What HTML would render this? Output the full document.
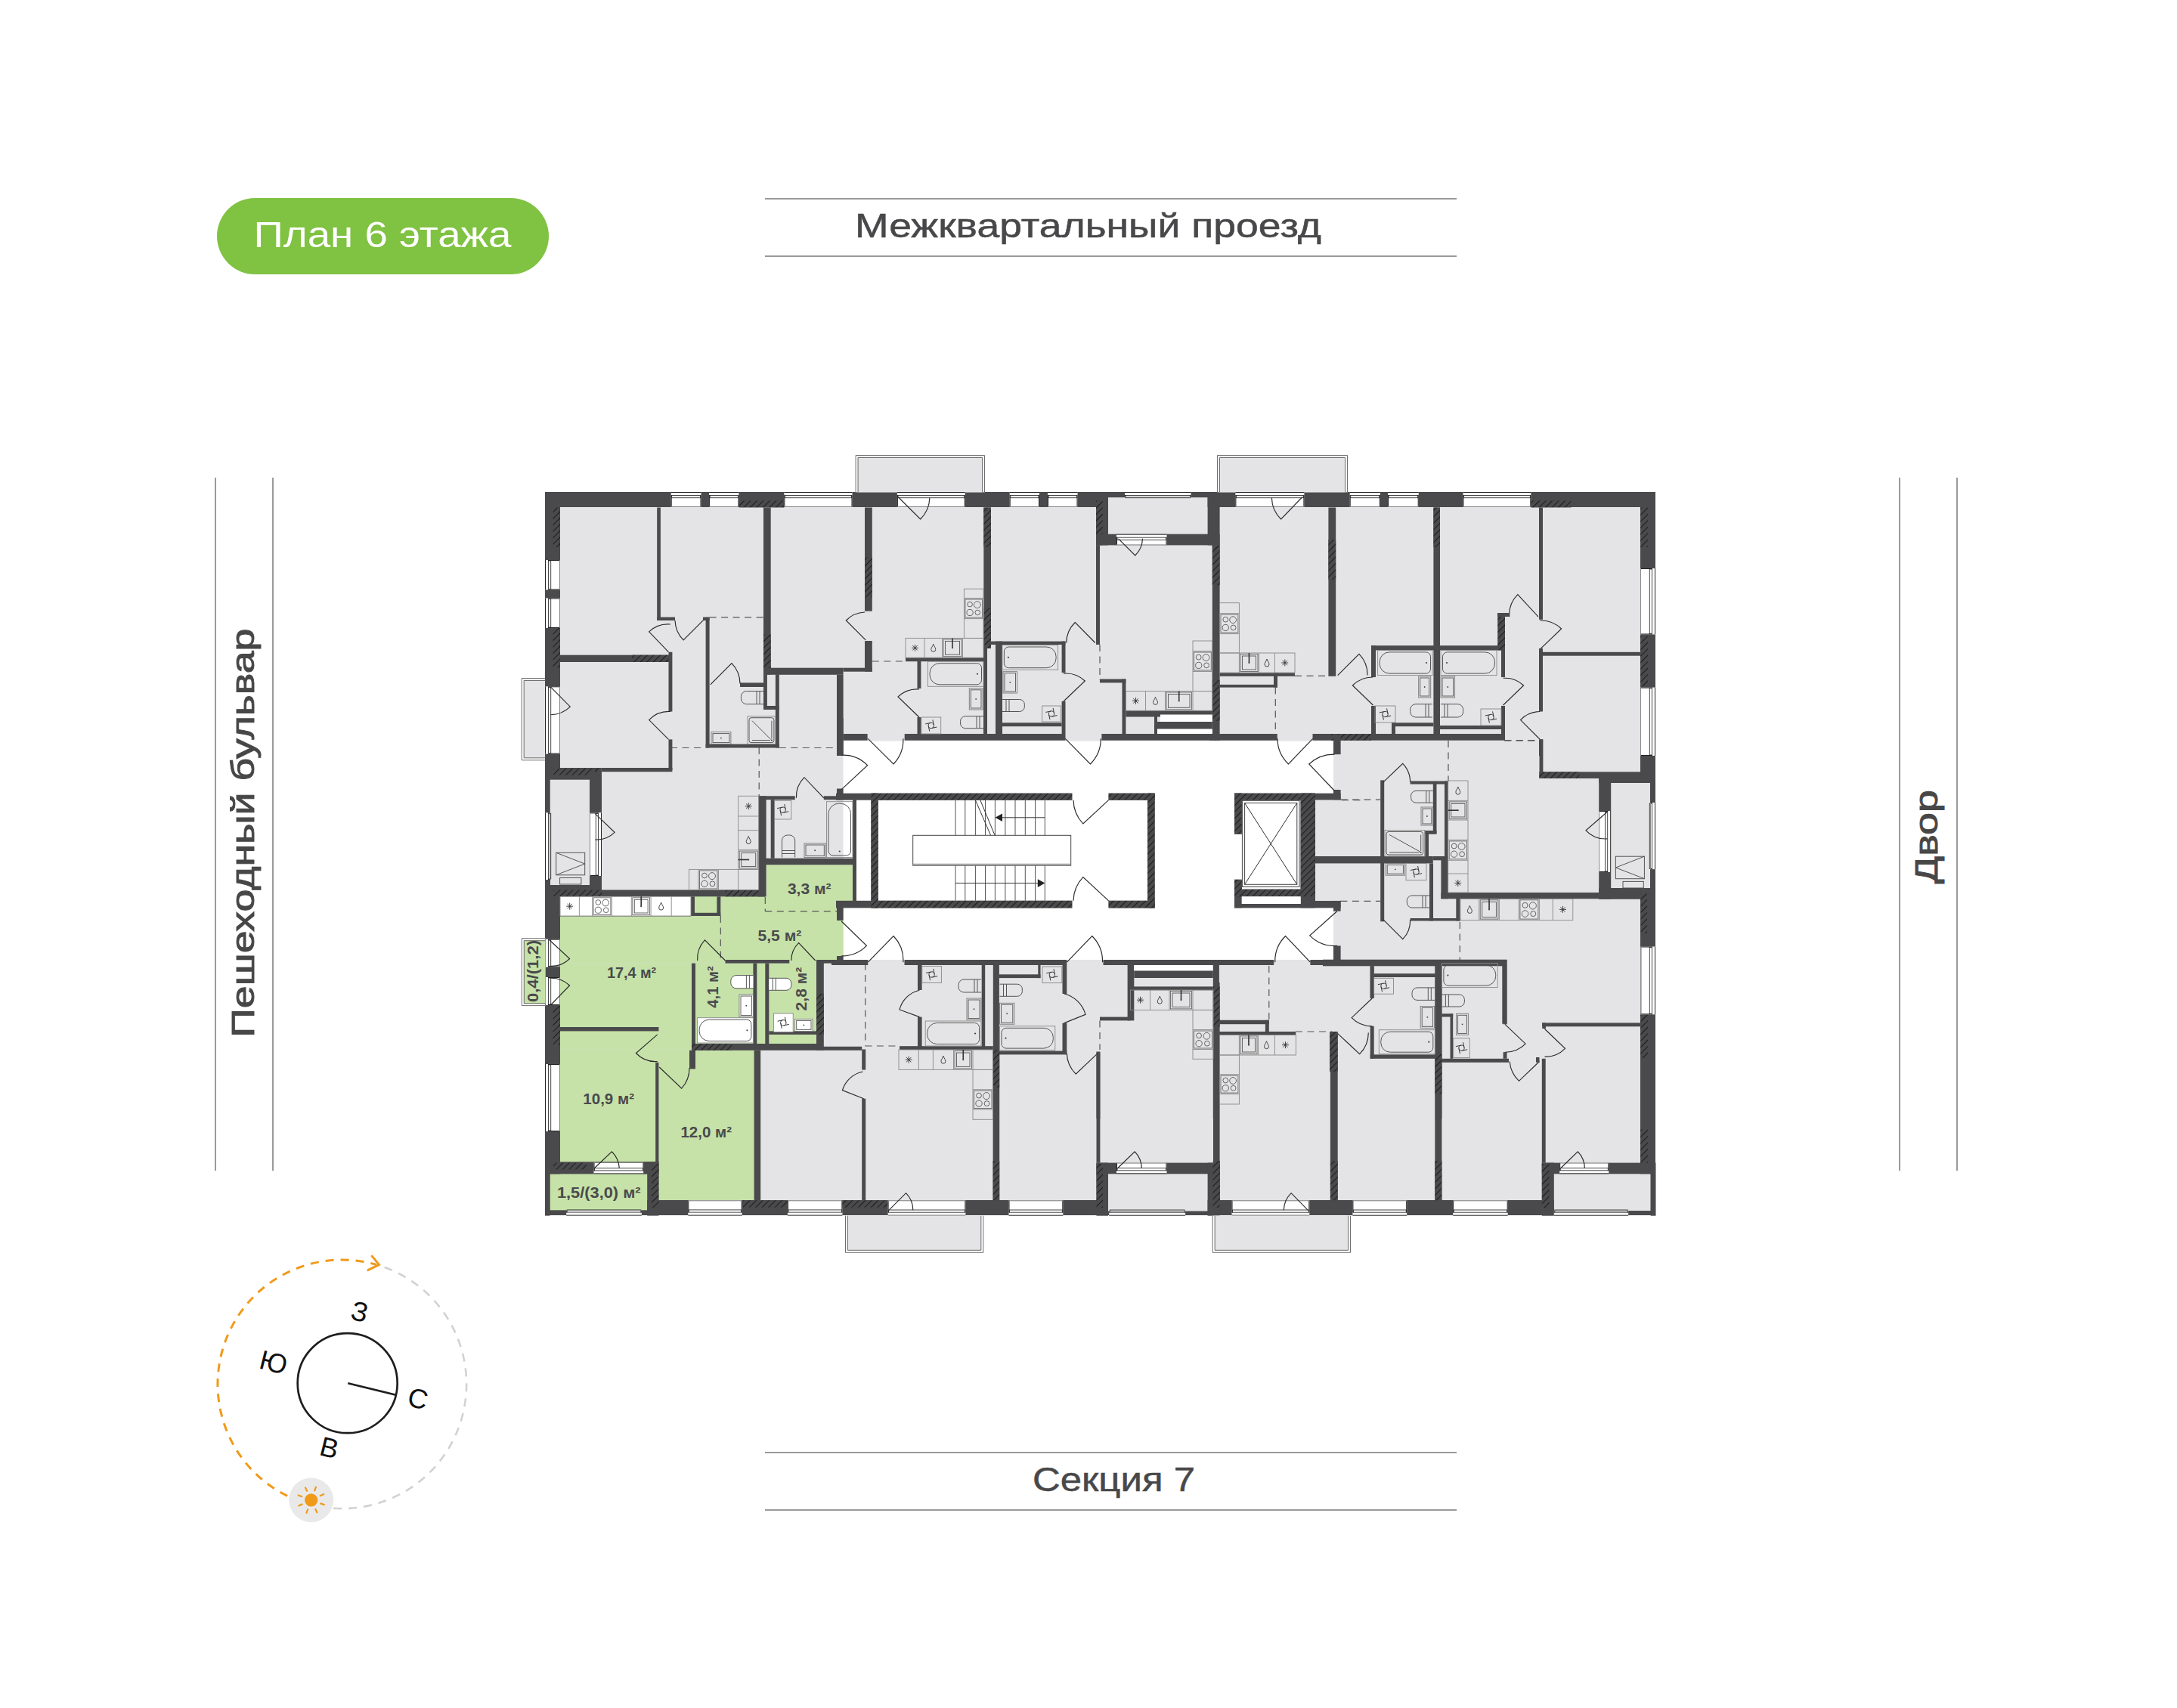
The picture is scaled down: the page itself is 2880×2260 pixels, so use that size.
<!DOCTYPE html>
<html><head><meta charset="utf-8">
<style>
html,body{margin:0;padding:0;background:#fff;}
body{width:2880px;height:2260px;position:relative;overflow:hidden;font-family:"Liberation Sans",sans-serif;}
.t{position:absolute;white-space:nowrap;color:#474747;}
</style></head><body>
<svg width="2880" height="2260" viewBox="0 0 2880 2260" style="position:absolute;left:0;top:0">
<defs>
<pattern id="hatch" patternUnits="userSpaceOnUse" width="6" height="6" patternTransform="rotate(45)">
<rect width="6" height="6" fill="#4a4a4c"/><rect x="0" y="0" width="1.1" height="6" fill="#1e1e1e"/>
</pattern>
</defs>
<!-- pill -->
<rect x="287" y="262" width="439" height="101" rx="50.5" fill="#80c242"/>
<text x="335.5" y="327" font-family="Liberation Sans" font-size="48.5" fill="#fff" textLength="341" lengthAdjust="spacingAndGlyphs">План 6 этажа</text>
<!-- top road -->
<rect x="1012" y="262" width="915" height="2" fill="#9a9a9a"/>
<rect x="1012" y="338" width="915" height="2" fill="#9a9a9a"/>
<text x="1131" y="314.3" font-family="Liberation Sans" font-size="44" fill="#48484a" stroke="#48484a" stroke-width="0.5" textLength="617" lengthAdjust="spacingAndGlyphs">Межквартальный проезд</text>
<!-- bottom -->
<rect x="1012" y="1921" width="915" height="2" fill="#9a9a9a"/>
<rect x="1012" y="1997" width="915" height="2" fill="#9a9a9a"/>
<text x="1366" y="1972.8" font-family="Liberation Sans" font-size="44" fill="#48484a" stroke="#48484a" stroke-width="0.5" textLength="215" lengthAdjust="spacingAndGlyphs">Секция 7</text>
<!-- left -->
<rect x="284" y="632" width="2" height="917" fill="#9a9a9a"/>
<rect x="360" y="632" width="2" height="917" fill="#9a9a9a"/>
<text transform="translate(335.7,1372.7) rotate(-90)" font-family="Liberation Sans" font-size="43" fill="#474747" stroke="#474747" stroke-width="0.9" textLength="541" lengthAdjust="spacingAndGlyphs">Пешеходный бульвар</text>
<!-- right -->
<rect x="2512" y="632" width="2" height="917" fill="#9a9a9a"/>
<rect x="2588" y="632" width="2" height="917" fill="#9a9a9a"/>
<text transform="translate(2563.3,1169.2) rotate(-90)" font-family="Liberation Sans" font-size="42.5" fill="#474747" stroke="#474747" stroke-width="0.9" textLength="124" lengthAdjust="spacingAndGlyphs">Двор</text>
<!-- compass -->
<g>
<path d="M508.7,1676.8 A164.6,164.6 0 0 1 429.5,1994.5" fill="none" stroke="#d2d2d2" stroke-width="2.6" stroke-dasharray="11 9"/>
<path d="M380.2,1979.4 A164.6,164.6 0 0 1 497.8,1673.3" fill="none" stroke="#f09a1a" stroke-width="3" stroke-dasharray="11 9" stroke-linecap="butt"/>
<path d="M491.4,1661.1 L501.4,1673.4 L485.8,1681.2" fill="none" stroke="#f09a1a" stroke-width="3"/>
<circle cx="411.7" cy="1984.8" r="29.4" fill="#e9e9e9"/><circle cx="411.7" cy="1984.8" r="8.6" fill="#f09a1a"/><path d="M406.4,1973.5 L403.7,1967.6 M416.0,1973.1 L418.2,1966.9 M423.0,1979.5 L428.9,1976.8 M423.4,1989.1 L429.6,1991.3 M417.0,1996.1 L419.7,2002.0 M407.4,1996.5 L405.2,2002.7 M400.4,1990.1 L394.5,1992.8 M400.0,1980.5 L393.8,1978.3 " stroke="#f09a1a" stroke-width="2.2"/>
<circle cx="459.7" cy="1830.2" r="66" fill="none" stroke="#1e1e1e" stroke-width="2.7"/>
<line x1="460.2" y1="1830.2" x2="523.6" y2="1845.8" stroke="#1e1e1e" stroke-width="2.7"/>
<text x="476" y="1748" text-anchor="middle" font-family="Liberation Sans" font-size="36" fill="#111" transform="rotate(14 476 1735)">З</text><text x="362" y="1815" text-anchor="middle" font-family="Liberation Sans" font-size="36" fill="#111" transform="rotate(14 362 1802)">Ю</text><text x="553" y="1863" text-anchor="middle" font-family="Liberation Sans" font-size="36" fill="#111" transform="rotate(14 553 1850)">С</text><text x="435.7" y="1928" text-anchor="middle" font-family="Liberation Sans" font-size="36" fill="#111" transform="rotate(14 435.7 1915)">В</text>
</g>
<g id="plan">
<rect x="721" y="651" width="1469" height="957" fill="#e4e4e6"/>
<rect x="1115.6" y="980.5" width="648.4" height="289.5" fill="#fff"/>
<rect x="721" y="651" width="1469" height="20" fill="#4a4a4c"/>
<rect x="721" y="651" width="20" height="957" fill="#4a4a4c"/>
<rect x="2170" y="651" width="20" height="957" fill="#4a4a4c"/>
<rect x="721" y="1588" width="1469" height="20" fill="#4a4a4c"/>
<rect x="887.7" y="651" width="39.8" height="20" fill="#fff"/>
<line x1="887.7" y1="651.5" x2="927.5" y2="651.5" stroke="#222" stroke-width="1"/>
<rect x="888.7" y="655.5" width="37.8" height="3.2" fill="none" stroke="#333" stroke-width="0.9"/>
<line x1="888.2" y1="655" x2="888.2" y2="671" stroke="#222" stroke-width="1"/>
<line x1="927.0" y1="655" x2="927.0" y2="671" stroke="#222" stroke-width="1"/>
<line x1="887.7" y1="670.5" x2="927.5" y2="670.5" stroke="#888" stroke-width="1"/>
<rect x="938.1" y="651" width="39.3" height="20" fill="#fff"/>
<line x1="938.1" y1="651.5" x2="977.4" y2="651.5" stroke="#222" stroke-width="1"/>
<rect x="939.1" y="655.5" width="37.3" height="3.2" fill="none" stroke="#333" stroke-width="0.9"/>
<line x1="938.6" y1="655" x2="938.6" y2="671" stroke="#222" stroke-width="1"/>
<line x1="976.9" y1="655" x2="976.9" y2="671" stroke="#222" stroke-width="1"/>
<line x1="938.1" y1="670.5" x2="977.4" y2="670.5" stroke="#888" stroke-width="1"/>
<rect x="977.4" y="662.4" width="60.0" height="9.1" fill="url(#hatch)"/>
<rect x="1037.4" y="651" width="90.1" height="20" fill="#fff"/>
<line x1="1037.4" y1="651.5" x2="1127.5" y2="651.5" stroke="#222" stroke-width="1"/>
<rect x="1038.4" y="655.5" width="88.1" height="3.2" fill="none" stroke="#333" stroke-width="0.9"/>
<line x1="1037.9" y1="655" x2="1037.9" y2="671" stroke="#222" stroke-width="1"/>
<line x1="1127.0" y1="655" x2="1127.0" y2="671" stroke="#222" stroke-width="1"/>
<line x1="1037.4" y1="670.5" x2="1127.5" y2="670.5" stroke="#888" stroke-width="1"/>
<rect x="1131.6" y="602" width="171.4" height="49.3" fill="#fff"/>
<rect x="1134.6" y="605" width="165.4" height="46.3" fill="#e4e4e6"/>
<path d="M1132.1,651.3 V602.5 H1302.5 V651.3 M1135.1,651.3 V605.5 H1299.5 V651.3" fill="none" stroke="#6e6e6e" stroke-width="1"/>
<rect x="731.5" y="671.5" width="9.5" height="52.5" fill="url(#hatch)"/>
<rect x="721" y="741" width="20" height="39.4" fill="#fff"/>
<line x1="721.5" y1="741" x2="721.5" y2="780.4" stroke="#222" stroke-width="1"/>
<rect x="725.5" y="742" width="3.2" height="37.4" fill="none" stroke="#333" stroke-width="0.9"/>
<line x1="725" y1="741.5" x2="741" y2="741.5" stroke="#222" stroke-width="1"/>
<line x1="725" y1="779.9" x2="741" y2="779.9" stroke="#222" stroke-width="1"/>
<line x1="740.5" y1="741" x2="740.5" y2="780.4" stroke="#888" stroke-width="1"/>
<rect x="721" y="791.5" width="20" height="39.5" fill="#fff"/>
<line x1="721.5" y1="791.5" x2="721.5" y2="831" stroke="#222" stroke-width="1"/>
<rect x="725.5" y="792.5" width="3.2" height="37.5" fill="none" stroke="#333" stroke-width="0.9"/>
<line x1="725" y1="792.0" x2="741" y2="792.0" stroke="#222" stroke-width="1"/>
<line x1="725" y1="830.5" x2="741" y2="830.5" stroke="#222" stroke-width="1"/>
<line x1="740.5" y1="791.5" x2="740.5" y2="831" stroke="#888" stroke-width="1"/>
<rect x="731.5" y="831" width="9.5" height="52.7" fill="url(#hatch)"/>
<rect x="689.7" y="897" width="31.3" height="109.3" fill="#fff"/>
<rect x="692.7" y="900" width="28.3" height="103.3" fill="#e4e4e6"/>
<path d="M721,897.5 H690.2 V1005.8 H721 M721,900.5 H693.2 V1002.8 H721" fill="none" stroke="#6e6e6e" stroke-width="1"/>
<rect x="721" y="908.3" width="20" height="89.2" fill="#fff"/>
<line x1="721.5" y1="908.3" x2="721.5" y2="997.5" stroke="#222" stroke-width="1"/>
<rect x="725.5" y="909.3" width="3.2" height="87.2" fill="none" stroke="#333" stroke-width="0.9"/>
<line x1="725" y1="908.8" x2="741" y2="908.8" stroke="#222" stroke-width="1"/>
<line x1="725" y1="997.0" x2="741" y2="997.0" stroke="#222" stroke-width="1"/>
<line x1="740.5" y1="908.3" x2="740.5" y2="997.5" stroke="#888" stroke-width="1"/>
<path d="M728.3,908.8 L754.3,935.2 A36.9,36.9 0 0 1 728.3,945.7" fill="none" stroke="#2a2a2a" stroke-width="1.15"/>
<rect x="869.2" y="671.5" width="4.7" height="149.5" fill="#4a4a4c"/>
<rect x="869.2" y="816.6" width="23.8" height="4.4" fill="#4a4a4c"/>
<path d="M884.5,862.8 L858.6,835.8 A36.9,36.9 0 0 1 886.9,826" fill="none" stroke="#2a2a2a" stroke-width="1.15"/>
<path d="M931.2,819.8 L904.1,846.9 A38.2,38.2 0 0 1 893,821" fill="none" stroke="#2a2a2a" stroke-width="1.15"/>
<rect x="930" y="816.6" width="8.6" height="4.4" fill="#4a4a4c"/>
<line x1="938.6" y1="816.8" x2="1010" y2="816.8" stroke="#555" stroke-width="1.2" stroke-dasharray="9 6.5"/>
<rect x="741" y="866.7" width="148" height="9.3" fill="#4a4a4c"/>
<rect x="836" y="866.7" width="53" height="9.3" fill="url(#hatch)"/>
<rect x="884.5" y="862.8" width="4.9" height="78.7" fill="#4a4a4c"/>
<rect x="884.5" y="978.4" width="4.9" height="40.6" fill="#4a4a4c"/>
<path d="M884.5,978.4 L858.6,952.6 A37.0,37.0 0 0 1 887,941.5" fill="none" stroke="#2a2a2a" stroke-width="1.15"/>
<rect x="1010" y="671.5" width="9.7" height="220.8" fill="#4a4a4c"/>
<rect x="1010" y="839.5" width="9.7" height="52.8" fill="url(#hatch)"/>
<rect x="1010" y="883.7" width="105.6" height="9.1" fill="#4a4a4c"/>
<rect x="1115.6" y="883.7" width="38.2" height="5.0" fill="#4a4a4c"/>
<rect x="1144" y="671.5" width="9.8" height="137.2" fill="#4a4a4c"/>
<rect x="1144" y="737.4" width="9.8" height="52.9" fill="url(#hatch)"/>
<rect x="1144" y="848" width="9.8" height="40.7" fill="#4a4a4c"/>
<path d="M1145.2,846.8 L1119.3,821 A36.8,36.8 0 0 1 1144,810" fill="none" stroke="#2a2a2a" stroke-width="1.15"/>
<line x1="1153.8" y1="875" x2="1198" y2="875" stroke="#555" stroke-width="1.2" stroke-dasharray="9 6.5"/>
<rect x="933.6" y="816.8" width="5.0" height="172.7" fill="#4a4a4c"/>
<rect x="979" y="903.4" width="32" height="5.6" fill="#4a4a4c"/>
<path d="M939.8,905.9 L968,877.6 A39.2,39.2 0 0 1 979,904.6" fill="none" stroke="#2a2a2a" stroke-width="1.15"/>
<rect x="1010" y="892.3" width="4.9" height="46.7" fill="#4a4a4c"/>
<rect x="1010" y="934" width="20.8" height="5" fill="#4a4a4c"/>
<rect x="1025.9" y="892.3" width="4.9" height="97.2" fill="#4a4a4c"/>
<rect x="933.6" y="984.6" width="97.2" height="4.9" fill="#4a4a4c"/>
<line x1="887" y1="989.5" x2="933.6" y2="989.5" stroke="#555" stroke-width="1.2" stroke-dasharray="9 6.5"/>
<line x1="1030.8" y1="989.5" x2="1105.8" y2="989.5" stroke="#555" stroke-width="1.2" stroke-dasharray="9 6.5"/>
<rect x="1107" y="892.8" width="8.6" height="107.2" fill="#4a4a4c"/>
<rect x="1115.6" y="971" width="32.0" height="8.7" fill="#4a4a4c"/>
<rect x="1186.9" y="651" width="89.8" height="20" fill="#fff"/>
<line x1="1186.9" y1="651.5" x2="1276.7" y2="651.5" stroke="#222" stroke-width="1"/>
<rect x="1187.9" y="655.5" width="87.8" height="3.2" fill="none" stroke="#333" stroke-width="0.9"/>
<line x1="1187.4" y1="655" x2="1187.4" y2="671" stroke="#222" stroke-width="1"/>
<line x1="1276.2" y1="655" x2="1276.2" y2="671" stroke="#222" stroke-width="1"/>
<line x1="1186.9" y1="670.5" x2="1276.7" y2="670.5" stroke="#888" stroke-width="1"/>
<path d="M1188.1,657.5 L1217.6,687 A41.8,41.8 0 0 0 1229.9,658.7" fill="none" stroke="#2a2a2a" stroke-width="1.15"/>
<rect x="1335.7" y="651" width="39.3" height="20" fill="#fff"/>
<line x1="1335.7" y1="651.5" x2="1375" y2="651.5" stroke="#222" stroke-width="1"/>
<rect x="1336.7" y="655.5" width="37.3" height="3.2" fill="none" stroke="#333" stroke-width="0.9"/>
<line x1="1336.2" y1="655" x2="1336.2" y2="671" stroke="#222" stroke-width="1"/>
<line x1="1374.5" y1="655" x2="1374.5" y2="671" stroke="#222" stroke-width="1"/>
<line x1="1335.7" y1="670.5" x2="1375" y2="670.5" stroke="#888" stroke-width="1"/>
<rect x="1386" y="651" width="39.5" height="20" fill="#fff"/>
<line x1="1386" y1="651.5" x2="1425.5" y2="651.5" stroke="#222" stroke-width="1"/>
<rect x="1387" y="655.5" width="37.5" height="3.2" fill="none" stroke="#333" stroke-width="0.9"/>
<line x1="1386.5" y1="655" x2="1386.5" y2="671" stroke="#222" stroke-width="1"/>
<line x1="1425.0" y1="655" x2="1425.0" y2="671" stroke="#222" stroke-width="1"/>
<line x1="1386" y1="670.5" x2="1425.5" y2="670.5" stroke="#888" stroke-width="1"/>
<rect x="1466" y="658.2" width="131.6" height="48.5" fill="#e4e4e6"/>
<rect x="1488" y="651" width="87.5" height="7.2" fill="#fff"/>
<line x1="1488" y1="651.5" x2="1575.5" y2="651.5" stroke="#222" stroke-width="1"/>
<rect x="1489" y="655.5" width="85.5" height="3.2" fill="none" stroke="#333" stroke-width="0.9"/>
<line x1="1488.5" y1="655" x2="1488.5" y2="658.2" stroke="#222" stroke-width="1"/>
<line x1="1575.0" y1="655" x2="1575.0" y2="658.2" stroke="#222" stroke-width="1"/>
<line x1="1488" y1="657.7" x2="1575.5" y2="657.7" stroke="#888" stroke-width="1"/>
<rect x="1450" y="651" width="16" height="70.4" fill="#4a4a4c"/>
<rect x="1450" y="662.4" width="8.7" height="59.0" fill="url(#hatch)"/>
<rect x="1597.6" y="651" width="16.0" height="70.4" fill="#4a4a4c"/>
<rect x="1450" y="706.7" width="163.6" height="14.7" fill="#4a4a4c"/>
<rect x="1477" y="706.7" width="66.5" height="14.7" fill="#fff"/>
<line x1="1477" y1="707.2" x2="1543.5" y2="707.2" stroke="#222" stroke-width="1"/>
<rect x="1478" y="711.2" width="64.5" height="3.2" fill="none" stroke="#333" stroke-width="0.9"/>
<line x1="1477.5" y1="710.7" x2="1477.5" y2="721.4" stroke="#222" stroke-width="1"/>
<line x1="1543.0" y1="710.7" x2="1543.0" y2="721.4" stroke="#222" stroke-width="1"/>
<line x1="1477" y1="720.9" x2="1543.5" y2="720.9" stroke="#888" stroke-width="1"/>
<path d="M1479.6,712.8 L1501.7,735 A31.9,31.9 0 0 0 1511.5,712.8" fill="none" stroke="#2a2a2a" stroke-width="1.15"/>
<rect x="1610" y="602" width="173" height="49.3" fill="#fff"/>
<rect x="1613" y="605" width="167" height="46.3" fill="#e4e4e6"/>
<path d="M1610.5,651.3 V602.5 H1782.5 V651.3 M1613.5,651.3 V605.5 H1779.5 V651.3" fill="none" stroke="#6e6e6e" stroke-width="1"/>
<rect x="1301.3" y="671.5" width="9.7" height="186.5" fill="#4a4a4c"/>
<rect x="1301.3" y="671.5" width="9.7" height="52.4" fill="url(#hatch)"/>
<rect x="1301.3" y="804.3" width="9.7" height="53.7" fill="url(#hatch)"/>
<rect x="1450" y="721.4" width="5" height="131.6" fill="#4a4a4c"/>
<rect x="1311" y="848.6" width="98.5" height="4.4" fill="#4a4a4c"/>
<path d="M1448.8,850.5 L1422.3,823.5 A38.1,38.1 0 0 0 1410.7,850.5" fill="none" stroke="#2a2a2a" stroke-width="1.15"/>
<rect x="1301" y="853" width="5" height="118" fill="#4a4a4c"/>
<rect x="1317" y="848.6" width="9" height="122.4" fill="#4a4a4c"/>
<rect x="1404.6" y="848.6" width="4.9" height="41.4" fill="#4a4a4c"/>
<rect x="1404.6" y="928" width="4.9" height="43" fill="#4a4a4c"/>
<path d="M1407,928 L1435.3,901 A36.9,36.9 0 0 0 1407,891.1" fill="none" stroke="#2a2a2a" stroke-width="1.15"/>
<rect x="1326" y="956.3" width="78.6" height="4.9" fill="#4a4a4c"/>
<rect x="1196.7" y="971" width="212.8" height="8.7" fill="#4a4a4c"/>
<rect x="1198" y="870.2" width="103" height="5.0" fill="#4a4a4c"/>
<rect x="1213.5" y="875" width="4.9" height="36" fill="#4a4a4c"/>
<rect x="1213.5" y="949" width="4.9" height="22" fill="#4a4a4c"/>
<path d="M1216,949 L1188,921.9 A37.0,37.0 0 0 1 1216,912" fill="none" stroke="#2a2a2a" stroke-width="1.15"/>
<rect x="1603.8" y="721.4" width="9.8" height="254.6" fill="#4a4a4c"/>
<rect x="1603.8" y="721.4" width="9.8" height="52.9" fill="url(#hatch)"/>
<rect x="1603.8" y="899.7" width="9.8" height="54.1" fill="url(#hatch)"/>
<rect x="1455" y="898.5" width="34.4" height="4.9" fill="#4a4a4c"/>
<rect x="1484.5" y="898.5" width="4.9" height="72.5" fill="#4a4a4c"/>
<line x1="1455" y1="853" x2="1455" y2="900" stroke="#555" stroke-width="1.2" stroke-dasharray="9 6.5"/>
<rect x="1489.4" y="940.3" width="114.4" height="8.2" fill="#4a4a4c"/>
<rect x="1535" y="945.5" width="68.8" height="9.5" fill="#fff"/>
<rect x="1527" y="955" width="76.8" height="11" fill="#4a4a4c"/>
<rect x="1531" y="964.5" width="72.8" height="6.5" fill="#fff"/>
<rect x="1527" y="948" width="4" height="23" fill="#4a4a4c"/>
<rect x="1457.4" y="971" width="156.2" height="8.7" fill="#4a4a4c"/>
<rect x="1634.4" y="651" width="91.0" height="20" fill="#fff"/>
<line x1="1634.4" y1="651.5" x2="1725.4" y2="651.5" stroke="#222" stroke-width="1"/>
<rect x="1635.4" y="655.5" width="89.0" height="3.2" fill="none" stroke="#333" stroke-width="0.9"/>
<line x1="1634.9" y1="655" x2="1634.9" y2="671" stroke="#222" stroke-width="1"/>
<line x1="1724.9" y1="655" x2="1724.9" y2="671" stroke="#222" stroke-width="1"/>
<line x1="1634.4" y1="670.5" x2="1725.4" y2="670.5" stroke="#888" stroke-width="1"/>
<path d="M1723,657.5 L1694.7,687 A40.6,40.6 0 0 1 1682.4,658.7" fill="none" stroke="#2a2a2a" stroke-width="1.15"/>
<rect x="1785.7" y="651" width="40.1" height="20" fill="#fff"/>
<line x1="1785.7" y1="651.5" x2="1825.8" y2="651.5" stroke="#222" stroke-width="1"/>
<rect x="1786.7" y="655.5" width="38.1" height="3.2" fill="none" stroke="#333" stroke-width="0.9"/>
<line x1="1786.2" y1="655" x2="1786.2" y2="671" stroke="#222" stroke-width="1"/>
<line x1="1825.3" y1="655" x2="1825.3" y2="671" stroke="#222" stroke-width="1"/>
<line x1="1785.7" y1="670.5" x2="1825.8" y2="670.5" stroke="#888" stroke-width="1"/>
<rect x="1836" y="651" width="40.7" height="20" fill="#fff"/>
<line x1="1836" y1="651.5" x2="1876.7" y2="651.5" stroke="#222" stroke-width="1"/>
<rect x="1837" y="655.5" width="38.7" height="3.2" fill="none" stroke="#333" stroke-width="0.9"/>
<line x1="1836.5" y1="655" x2="1836.5" y2="671" stroke="#222" stroke-width="1"/>
<line x1="1876.2" y1="655" x2="1876.2" y2="671" stroke="#222" stroke-width="1"/>
<line x1="1836" y1="670.5" x2="1876.7" y2="670.5" stroke="#888" stroke-width="1"/>
<rect x="1935.5" y="651" width="89.8" height="20" fill="#fff"/>
<line x1="1935.5" y1="651.5" x2="2025.3" y2="651.5" stroke="#222" stroke-width="1"/>
<rect x="1936.5" y="655.5" width="87.8" height="3.2" fill="none" stroke="#333" stroke-width="0.9"/>
<line x1="1936.0" y1="655" x2="1936.0" y2="671" stroke="#222" stroke-width="1"/>
<line x1="2024.8" y1="655" x2="2024.8" y2="671" stroke="#222" stroke-width="1"/>
<line x1="1935.5" y1="670.5" x2="2025.3" y2="670.5" stroke="#888" stroke-width="1"/>
<rect x="2025.3" y="662.4" width="53.1" height="9.1" fill="url(#hatch)"/>
<rect x="2170" y="671.5" width="10" height="52.5" fill="url(#hatch)"/>
<rect x="2170" y="752" width="20" height="87.5" fill="#fff"/>
<line x1="2189.5" y1="752" x2="2189.5" y2="839.5" stroke="#222" stroke-width="1"/>
<rect x="2182.3" y="753" width="3.2" height="85.5" fill="none" stroke="#333" stroke-width="0.9"/>
<line x1="2170" y1="752.5" x2="2186" y2="752.5" stroke="#222" stroke-width="1"/>
<line x1="2170" y1="839.0" x2="2186" y2="839.0" stroke="#222" stroke-width="1"/>
<line x1="2170.5" y1="752" x2="2170.5" y2="839.5" stroke="#888" stroke-width="1"/>
<rect x="2170" y="842" width="10" height="66.3" fill="url(#hatch)"/>
<rect x="2170" y="909.6" width="20" height="90.4" fill="#fff"/>
<line x1="2189.5" y1="909.6" x2="2189.5" y2="1000" stroke="#222" stroke-width="1"/>
<rect x="2182.3" y="910.6" width="3.2" height="88.4" fill="none" stroke="#333" stroke-width="0.9"/>
<line x1="2170" y1="910.1" x2="2186" y2="910.1" stroke="#222" stroke-width="1"/>
<line x1="2170" y1="999.5" x2="2186" y2="999.5" stroke="#222" stroke-width="1"/>
<line x1="2170.5" y1="909.6" x2="2170.5" y2="1000" stroke="#888" stroke-width="1"/>
<rect x="1613.6" y="890.4" width="99.4" height="4.4" fill="#4a4a4c"/>
<rect x="1685" y="890.4" width="5" height="19.2" fill="#4a4a4c"/>
<rect x="1613.6" y="905.9" width="76.4" height="3.7" fill="#4a4a4c"/>
<line x1="1687.3" y1="909.6" x2="1687.3" y2="971" stroke="#555" stroke-width="1.2" stroke-dasharray="9 6.5"/>
<line x1="1713" y1="894.3" x2="1758.6" y2="894.3" stroke="#555" stroke-width="1.2" stroke-dasharray="9 6.5"/>
<rect x="1757.4" y="671.5" width="9.8" height="223.3" fill="#4a4a4c"/>
<rect x="1757.4" y="714" width="9.8" height="53" fill="url(#hatch)"/>
<path d="M1769.7,893.6 L1798,865.3 A39.3,39.3 0 0 1 1809,893.6" fill="none" stroke="#2a2a2a" stroke-width="1.15"/>
<rect x="1814" y="854.2" width="177" height="6.2" fill="#4a4a4c"/>
<rect x="1814" y="854.2" width="6" height="41.8" fill="#4a4a4c"/>
<rect x="1814" y="934" width="6" height="37" fill="#4a4a4c"/>
<rect x="1896.4" y="671.5" width="8.6" height="304.5" fill="#4a4a4c"/>
<rect x="1896.4" y="671.5" width="8.6" height="52.5" fill="url(#hatch)"/>
<rect x="1986" y="860" width="5" height="36" fill="#4a4a4c"/>
<rect x="1986" y="934" width="5" height="42" fill="#4a4a4c"/>
<rect x="1981.2" y="811" width="9.8" height="49.4" fill="url(#hatch)"/>
<rect x="1981" y="811" width="15" height="5" fill="#4a4a4c"/>
<path d="M1816.4,933 L1789.4,907 A37.0,37.0 0 0 1 1816.4,896" fill="none" stroke="#2a2a2a" stroke-width="1.15"/>
<path d="M1988.6,933 L2015.6,907 A35.7,35.7 0 0 0 1988.6,897.3" fill="none" stroke="#2a2a2a" stroke-width="1.15"/>
<rect x="1841" y="956.3" width="55.4" height="4.9" fill="#4a4a4c"/>
<rect x="1841" y="956.3" width="5" height="14.7" fill="#4a4a4c"/>
<rect x="1905" y="960" width="86" height="5" fill="#4a4a4c"/>
<rect x="1600" y="971" width="89.8" height="8.7" fill="#4a4a4c"/>
<rect x="1736.5" y="971" width="254.5" height="8.7" fill="#4a4a4c"/>
<rect x="1761" y="971" width="53" height="8.7" fill="url(#hatch)"/>
<rect x="2036" y="671.5" width="5" height="148.3" fill="#4a4a4c"/>
<path d="M2034.9,816 L2007.8,786.6 A38.1,38.1 0 0 0 1996.8,816" fill="none" stroke="#2a2a2a" stroke-width="1.15"/>
<path d="M2037.3,859.2 L2065.6,832 A38.2,38.2 0 0 0 2037.3,821" fill="none" stroke="#2a2a2a" stroke-width="1.15"/>
<rect x="2036" y="858" width="5" height="83.5" fill="#4a4a4c"/>
<rect x="2041" y="862.8" width="129" height="4.9" fill="#4a4a4c"/>
<path d="M2037.3,978.4 L2011.5,952.6 A36.9,36.9 0 0 1 2037.3,941.5" fill="none" stroke="#2a2a2a" stroke-width="1.15"/>
<rect x="2036" y="978.4" width="5" height="21.6" fill="#4a4a4c"/>
<line x1="1990.6" y1="979.7" x2="2036" y2="979.7" stroke="#555" stroke-width="1.2" stroke-dasharray="9 6.5"/>
<rect x="741" y="1186" width="374.6" height="88.6" fill="#c6e2a9"/>
<rect x="741" y="1274.6" width="348.8" height="115.2" fill="#c6e2a9"/>
<rect x="741" y="1389.8" width="265.2" height="198.2" fill="#c6e2a9"/>
<rect x="1013.6" y="1144.3" width="114.4" height="51.7" fill="#c6e2a9"/>
<rect x="727.5" y="1553.4" width="128.7" height="47.9" fill="#c6e2a9"/>
<rect x="721" y="1016" width="74.5" height="15.7" fill="#4a4a4c"/>
<rect x="732.3" y="1016.8" width="63.2" height="8.8" fill="url(#hatch)"/>
<rect x="795.5" y="1016" width="93.9" height="5.2" fill="#4a4a4c"/>
<line x1="1004.2" y1="989" x2="1004.2" y2="1053" stroke="#555" stroke-width="1.2" stroke-dasharray="9 6.5"/>
<rect x="727.5" y="1031.7" width="13.5" height="139.3" fill="#e4e4e6"/>
<rect x="721" y="1031" width="6.5" height="44.4" fill="#4a4a4c"/>
<rect x="721" y="1075.4" width="7" height="88.6" fill="#fff"/>
<line x1="721.5" y1="1075.4" x2="721.5" y2="1164" stroke="#222" stroke-width="1"/>
<rect x="725.5" y="1076.4" width="3.2" height="86.6" fill="none" stroke="#333" stroke-width="0.9"/>
<line x1="725" y1="1075.9" x2="728" y2="1075.9" stroke="#222" stroke-width="1"/>
<line x1="725" y1="1163.5" x2="728" y2="1163.5" stroke="#222" stroke-width="1"/>
<line x1="727.5" y1="1075.4" x2="727.5" y2="1164" stroke="#888" stroke-width="1"/>
<rect x="721" y="1164" width="7" height="7.3" fill="#4a4a4c"/>
<rect x="780" y="1021" width="16" height="54.4" fill="#4a4a4c"/>
<rect x="780" y="1075.4" width="16" height="83.6" fill="#fff"/>
<line x1="795.5" y1="1075.4" x2="795.5" y2="1159" stroke="#222" stroke-width="1"/>
<rect x="788.3" y="1076.4" width="3.2" height="81.6" fill="none" stroke="#333" stroke-width="0.9"/>
<line x1="780" y1="1075.9" x2="792" y2="1075.9" stroke="#222" stroke-width="1"/>
<line x1="780" y1="1158.5" x2="792" y2="1158.5" stroke="#222" stroke-width="1"/>
<line x1="780.5" y1="1075.4" x2="780.5" y2="1159" stroke="#888" stroke-width="1"/>
<path d="M787.3,1076.7 L813.1,1101.3 A34.3,34.3 0 0 1 787.3,1111" fill="none" stroke="#2a2a2a" stroke-width="1.15"/>
<rect x="780" y="1159" width="16" height="18.5" fill="#4a4a4c"/>
<rect x="735.7" y="1128.3" width="38" height="29.5" fill="none" stroke="#555" stroke-width="1"/>
<path d="M735.7,1128.3 L773.7,1143 L735.7,1157.8" fill="none" stroke="#555" stroke-width="1"/>
<rect x="740.6" y="1161.5" width="28.3" height="8.5" fill="none" stroke="#555" stroke-width="1"/>
<rect x="721" y="1171" width="75" height="16" fill="#4a4a4c"/>
<rect x="796" y="1177.5" width="216.3" height="8.8" fill="#4a4a4c"/>
<rect x="732" y="1177.5" width="64" height="8.5" fill="url(#hatch)"/>
<rect x="959.5" y="1177.5" width="52.8" height="8.8" fill="url(#hatch)"/>
<rect x="1003.7" y="1053.3" width="9.9" height="133.0" fill="#4a4a4c"/>
<rect x="1003.7" y="1053.3" width="48.0" height="4.9" fill="#4a4a4c"/>
<rect x="1089.8" y="1053.3" width="25.8" height="4.9" fill="#4a4a4c"/>
<path d="M1089.8,1055.8 L1064,1028.7 A36.4,36.4 0 0 0 1053.4,1055.8" fill="none" stroke="#2a2a2a" stroke-width="1.15"/>
<rect x="1019.7" y="1058.2" width="4.9" height="77.5" fill="#4a4a4c"/>
<rect x="1003.7" y="1135.7" width="127.9" height="8.6" fill="#4a4a4c"/>
<rect x="1128" y="1058.2" width="5" height="137.8" fill="#4a4a4c"/>
<rect x="1133" y="1058.2" width="19.4" height="135.3" fill="#fff"/>
<line x1="1012.3" y1="1187" x2="1012.3" y2="1205.8" stroke="#555" stroke-width="1.2" stroke-dasharray="9 6.5"/>
<line x1="1012.3" y1="1205.8" x2="1107" y2="1205.8" stroke="#555" stroke-width="1.2" stroke-dasharray="9 6.5"/>
<rect x="1107" y="950" width="8.6" height="49.2" fill="#4a4a4c"/>
<rect x="1107" y="1043.5" width="8.6" height="14.7" fill="#4a4a4c"/>
<path d="M1113.2,1044.7 L1147.6,1012.7 A45.5,45.5 0 0 0 1113.2,999.2" fill="none" stroke="#2a2a2a" stroke-width="1.15"/>
<rect x="1107" y="1193.5" width="8.6" height="24.5" fill="#4a4a4c"/>
<rect x="1107" y="1265" width="8.6" height="9.6" fill="#4a4a4c"/>
<rect x="1115.6" y="1193.5" width="36.8" height="7.5" fill="#4a4a4c"/>
<path d="M1113.2,1219 L1146.4,1251.3 A45.8,45.8 0 0 1 1113.2,1264.8" fill="none" stroke="#2a2a2a" stroke-width="1.15"/>
<rect x="741" y="1186.3" width="173" height="25.7" fill="#fff"/>
<path d="M741,1212 H914 M766.4,1186.3 V1212 M783.6,1186.3 V1212 M809.4,1186.3 V1212 M835.3,1186.3 V1212 M861.1,1186.3 V1212 M888.2,1186.3 V1212" stroke="#666" stroke-width="1" fill="none"/>
<rect x="914" y="1186.3" width="5" height="25.7" fill="#4a4a4c"/>
<rect x="948.4" y="1186.3" width="4.9" height="25.7" fill="#4a4a4c"/>
<rect x="914" y="1207.8" width="39.3" height="4.2" fill="#4a4a4c"/>
<line x1="953.3" y1="1212" x2="953.3" y2="1270" stroke="#555" stroke-width="1.2" stroke-dasharray="9 6.5"/>
<rect x="721" y="1242.7" width="20" height="36.9" fill="#fff"/>
<line x1="721.5" y1="1242.7" x2="721.5" y2="1279.6" stroke="#222" stroke-width="1"/>
<rect x="725.5" y="1243.7" width="3.2" height="34.9" fill="none" stroke="#333" stroke-width="0.9"/>
<line x1="725" y1="1243.2" x2="741" y2="1243.2" stroke="#222" stroke-width="1"/>
<line x1="725" y1="1279.1" x2="741" y2="1279.1" stroke="#222" stroke-width="1"/>
<line x1="740.5" y1="1242.7" x2="740.5" y2="1279.6" stroke="#888" stroke-width="1"/>
<rect x="721" y="1293" width="20" height="37" fill="#fff"/>
<line x1="721.5" y1="1293" x2="721.5" y2="1330" stroke="#222" stroke-width="1"/>
<rect x="725.5" y="1294" width="3.2" height="35" fill="none" stroke="#333" stroke-width="0.9"/>
<line x1="725" y1="1293.5" x2="741" y2="1293.5" stroke="#222" stroke-width="1"/>
<line x1="725" y1="1329.5" x2="741" y2="1329.5" stroke="#222" stroke-width="1"/>
<line x1="740.5" y1="1293" x2="740.5" y2="1330" stroke="#888" stroke-width="1"/>
<rect x="731.5" y="1331" width="9.5" height="51.5" fill="url(#hatch)"/>
<rect x="721" y="1408" width="20" height="89" fill="#fff"/>
<line x1="721.5" y1="1408" x2="721.5" y2="1497" stroke="#222" stroke-width="1"/>
<rect x="725.5" y="1409" width="3.2" height="87" fill="none" stroke="#333" stroke-width="0.9"/>
<line x1="725" y1="1408.5" x2="741" y2="1408.5" stroke="#222" stroke-width="1"/>
<line x1="725" y1="1496.5" x2="741" y2="1496.5" stroke="#222" stroke-width="1"/>
<line x1="740.5" y1="1408" x2="740.5" y2="1497" stroke="#888" stroke-width="1"/>
<path d="M727,1244 L753.6,1268.5 A34.3,34.3 0 0 1 727,1278.3" fill="none" stroke="#2a2a2a" stroke-width="1.15"/>
<path d="M728.3,1330 L753.6,1304 A35.7,35.7 0 0 0 728.3,1294.3" fill="none" stroke="#2a2a2a" stroke-width="1.15"/>
<rect x="689.8" y="1241.2" width="31.6" height="89.9" fill="#fff"/>
<rect x="692.8" y="1244.2" width="28.6" height="83.9" fill="#c6e2a9"/>
<path d="M721.4,1241.7 H690.3 V1330.6 H721.4 M721.4,1244.7 H693.3 V1327.6 H721.4" fill="none" stroke="#6e6e6e" stroke-width="1"/>
<rect x="959.5" y="1270" width="84.8" height="4.6" fill="#4a4a4c"/>
<rect x="1080" y="1270" width="67.6" height="4.6" fill="#4a4a4c"/>
<path d="M959.5,1271 L932.4,1243.9 A36.9,36.9 0 0 0 922.6,1271" fill="none" stroke="#2a2a2a" stroke-width="1.15"/>
<path d="M1078.7,1271 L1056.6,1247.6 A31.9,31.9 0 0 0 1046.8,1271" fill="none" stroke="#2a2a2a" stroke-width="1.15"/>
<rect x="741" y="1359" width="130.4" height="5.4" fill="#4a4a4c"/>
<path d="M869.7,1368.9 L841.4,1393.5 A35.6,35.6 0 0 0 869.7,1404.5" fill="none" stroke="#2a2a2a" stroke-width="1.15"/>
<rect x="867.2" y="1405.8" width="4.2" height="132.8" fill="#4a4a4c"/>
<path d="M872.2,1412 L901.7,1440.2 A39.8,39.8 0 0 0 912,1413" fill="none" stroke="#2a2a2a" stroke-width="1.15"/>
<rect x="912" y="1389.8" width="8" height="24.6" fill="#4a4a4c"/>
<rect x="915" y="1274.6" width="5" height="106.4" fill="#4a4a4c"/>
<rect x="915" y="1381" width="173.6" height="8.8" fill="#4a4a4c"/>
<rect x="915" y="1381" width="53" height="8.8" fill="url(#hatch)"/>
<rect x="997.6" y="1389.8" width="8.6" height="198.2" fill="#4a4a4c"/>
<rect x="996.4" y="1274.6" width="4.9" height="106.4" fill="#4a4a4c"/>
<rect x="1012.3" y="1274.6" width="5.0" height="106.4" fill="#4a4a4c"/>
<rect x="1017.3" y="1364.4" width="62.7" height="4.5" fill="#4a4a4c"/>
<rect x="1080" y="1270" width="9.8" height="119.8" fill="#4a4a4c"/>
<rect x="1080" y="1314.8" width="9.8" height="54.1" fill="url(#hatch)"/>
<rect x="721" y="1537.3" width="150.4" height="16.1" fill="#4a4a4c"/>
<rect x="732" y="1538.6" width="44.2" height="8.8" fill="url(#hatch)"/>
<rect x="785.5" y="1538" width="66.0" height="15.4" fill="#fff"/>
<line x1="785.5" y1="1552.9" x2="851.5" y2="1552.9" stroke="#222" stroke-width="1"/>
<rect x="786.5" y="1545.7" width="64.0" height="3.2" fill="none" stroke="#333" stroke-width="0.9"/>
<line x1="786.0" y1="1538" x2="786.0" y2="1549.4" stroke="#222" stroke-width="1"/>
<line x1="851.0" y1="1538" x2="851.0" y2="1549.4" stroke="#222" stroke-width="1"/>
<line x1="785.5" y1="1538.5" x2="851.5" y2="1538.5" stroke="#888" stroke-width="1"/>
<path d="M786,1546 L809.4,1523.8 A33.3,33.3 0 0 1 819.3,1546" fill="none" stroke="#2a2a2a" stroke-width="1.15"/>
<rect x="851.3" y="1537.3" width="20.1" height="16.0" fill="#4a4a4c"/>
<rect x="856.2" y="1537.3" width="15.2" height="71.3" fill="#4a4a4c"/>
<rect x="862" y="1540" width="9.4" height="58" fill="url(#hatch)"/>
<rect x="721" y="1553" width="6.5" height="55.6" fill="#4a4a4c"/>
<rect x="749.2" y="1601.3" width="99.6" height="7.3" fill="#fff"/>
<line x1="749.2" y1="1608.1" x2="848.8" y2="1608.1" stroke="#222" stroke-width="1"/>
<rect x="750.2" y="1600.8999999999999" width="97.6" height="3.2" fill="none" stroke="#333" stroke-width="0.9"/>
<line x1="749.7" y1="1601.3" x2="749.7" y2="1604.6" stroke="#222" stroke-width="1"/>
<line x1="848.3" y1="1601.3" x2="848.3" y2="1604.6" stroke="#222" stroke-width="1"/>
<line x1="749.2" y1="1601.8" x2="848.8" y2="1601.8" stroke="#888" stroke-width="1"/>
<rect x="910.3" y="1588.3" width="71.3" height="20.3" fill="#fff"/>
<line x1="910.3" y1="1608.1" x2="981.6" y2="1608.1" stroke="#222" stroke-width="1"/>
<rect x="911.3" y="1600.8999999999999" width="69.3" height="3.2" fill="none" stroke="#333" stroke-width="0.9"/>
<line x1="910.8" y1="1588.3" x2="910.8" y2="1604.6" stroke="#222" stroke-width="1"/>
<line x1="981.1" y1="1588.3" x2="981.1" y2="1604.6" stroke="#222" stroke-width="1"/>
<line x1="910.3" y1="1588.8" x2="981.6" y2="1588.8" stroke="#888" stroke-width="1"/>
<rect x="982.8" y="1588.3" width="59.1" height="9.3" fill="url(#hatch)"/>
<rect x="1041.9" y="1588.3" width="72.5" height="20.3" fill="#fff"/>
<line x1="1041.9" y1="1608.1" x2="1114.4" y2="1608.1" stroke="#222" stroke-width="1"/>
<rect x="1042.9" y="1600.8999999999999" width="70.5" height="3.2" fill="none" stroke="#333" stroke-width="0.9"/>
<line x1="1042.4" y1="1588.3" x2="1042.4" y2="1604.6" stroke="#222" stroke-width="1"/>
<line x1="1113.9" y1="1588.3" x2="1113.9" y2="1604.6" stroke="#222" stroke-width="1"/>
<line x1="1041.9" y1="1588.8" x2="1114.4" y2="1588.8" stroke="#888" stroke-width="1"/>
<rect x="1114.4" y="1588.3" width="60.3" height="9.3" fill="url(#hatch)"/>
<rect x="1140.2" y="1388.5" width="5.0" height="27.1" fill="#4a4a4c"/>
<rect x="1140.2" y="1453.7" width="5.0" height="134.3" fill="#4a4a4c"/>
<path d="M1142.7,1453.7 L1114.4,1442.6 A35.7,35.7 0 0 1 1141.5,1418" fill="none" stroke="#2a2a2a" stroke-width="1.15"/>
<line x1="1144.7" y1="1274.6" x2="1144.7" y2="1383.6" stroke="#555" stroke-width="1.2" stroke-dasharray="9 6.5"/>
<rect x="1088.6" y="1384.8" width="51.6" height="5.0" fill="#4a4a4c"/>
<path d="M1148.2,977.3 L1182,1011 A46.7,46.7 0 0 0 1194.9,977.3" fill="none" stroke="#2a2a2a" stroke-width="1.15"/>
<path d="M1409.3,977.3 L1442.4,1011 A47.0,47.0 0 0 0 1456.3,977.3" fill="none" stroke="#2a2a2a" stroke-width="1.15"/>
<path d="M1736.7,977.3 L1704.5,1011 A46.7,46.7 0 0 1 1690,977.3" fill="none" stroke="#2a2a2a" stroke-width="1.15"/>
<rect x="1764" y="971.9" width="9.6" height="26.3" fill="#4a4a4c"/>
<rect x="1764" y="1045" width="9.6" height="13.7" fill="#4a4a4c"/>
<path d="M1765.6,1046.5 L1731.8,1011 A48.3,48.3 0 0 1 1765.6,998.2" fill="none" stroke="#2a2a2a" stroke-width="1.15"/>
<rect x="1106" y="1049.7" width="46.4" height="9.0" fill="#4a4a4c"/>
<rect x="1106" y="1191.8" width="46.4" height="9.6" fill="#4a4a4c"/>
<rect x="1152.4" y="1049.7" width="265.9" height="9.0" fill="#4a4a4c"/>
<rect x="1152.4" y="1049.7" width="265.9" height="9.0" fill="url(#hatch)"/>
<rect x="1466.6" y="1049.7" width="61.0" height="9.0" fill="#4a4a4c"/>
<rect x="1466.6" y="1049.7" width="61.0" height="9.0" fill="url(#hatch)"/>
<rect x="1152.4" y="1049.7" width="9.3" height="151.7" fill="#4a4a4c"/>
<rect x="1152.4" y="1049.7" width="9.3" height="151.7" fill="url(#hatch)"/>
<rect x="1518" y="1049.7" width="9.6" height="151.7" fill="#4a4a4c"/>
<rect x="1518" y="1049.7" width="9.6" height="151.7" fill="url(#hatch)"/>
<rect x="1152.4" y="1191.8" width="265.9" height="9.6" fill="#4a4a4c"/>
<rect x="1152.4" y="1191.8" width="265.9" height="9.6" fill="url(#hatch)"/>
<rect x="1466.6" y="1191.8" width="61.0" height="9.6" fill="#4a4a4c"/>
<rect x="1466.6" y="1191.8" width="61.0" height="9.6" fill="url(#hatch)"/>
<path d="M1466.6,1058.7 L1432.8,1089.9 A46.6,46.6 0 0 1 1420,1058.7" fill="none" stroke="#2a2a2a" stroke-width="1.15"/>
<path d="M1466.6,1191.8 L1432.8,1160.6 A46.6,46.6 0 0 0 1420,1191.8" fill="none" stroke="#2a2a2a" stroke-width="1.15"/>
<rect x="1207.7" y="1105.3" width="209" height="39.9" fill="#fff" stroke="#444" stroke-width="1"/>
<line x1="1207.7" y1="1143.5" x2="1416.7" y2="1143.5" stroke="#999" stroke-width="1.5"/>
<path d="M1264,1058.7 V1105.3 M1264,1145.2 V1191.8 M1276.8,1058.7 V1105.3 M1276.8,1145.2 V1191.8 M1290.4,1058.7 V1105.3 M1290.4,1145.2 V1191.8 M1303.5,1058.7 V1105.3 M1303.5,1145.2 V1191.8 M1316.4,1058.7 V1105.3 M1316.4,1145.2 V1191.8 M1329.9,1058.7 V1105.3 M1329.9,1145.2 V1191.8 M1343,1058.7 V1105.3 M1343,1145.2 V1191.8 M1356.3,1058.7 V1105.3 M1356.3,1145.2 V1191.8 M1369.5,1058.7 V1105.3 M1369.5,1145.2 V1191.8 M1382.3,1058.7 V1105.3 M1382.3,1145.2 V1191.8 " stroke="#555" stroke-width="1" fill="none"/>
<path d="M1290.4,1058.7 L1310.6,1105.3 M1296.8,1058.7 L1316.1,1105.3 M1322,1081.8 H1382.3 M1264,1168.6 H1376" stroke="#333" stroke-width="1" fill="none"/>
<path d="M1316.5,1081.8 L1326,1076.5 L1326,1087.1 Z M1382.3,1168.6 L1372.8,1163.3 L1372.8,1173.9 Z" fill="#222"/>
<rect x="1633" y="1049.7" width="107" height="9.0" fill="#4a4a4c"/>
<rect x="1633" y="1049.7" width="107" height="9.0" fill="url(#hatch)"/>
<rect x="1633" y="1049.7" width="9.8" height="54.0" fill="#4a4a4c"/>
<rect x="1633" y="1049.7" width="9.8" height="54.0" fill="url(#hatch)"/>
<rect x="1633" y="1163.8" width="9.8" height="37.6" fill="#4a4a4c"/>
<rect x="1633" y="1163.8" width="9.8" height="22.5" fill="url(#hatch)"/>
<rect x="1633" y="1176.7" width="97" height="9.6" fill="#4a4a4c"/>
<rect x="1633" y="1176.7" width="97" height="9.6" fill="url(#hatch)"/>
<rect x="1720.6" y="1049.7" width="19.4" height="151.7" fill="#4a4a4c"/>
<rect x="1720.6" y="1049.7" width="9.4" height="136.6" fill="url(#hatch)"/>
<rect x="1730" y="1049.7" width="10" height="136.6" fill="url(#hatch)"/>
<rect x="1642.8" y="1186.3" width="77.8" height="9.7" fill="#fff"/>
<rect x="1633" y="1196" width="107" height="5.4" fill="#4a4a4c"/>
<rect x="1643.4" y="1059.3" width="75.6" height="114.2" fill="#fff" stroke="#444" stroke-width="1"/>
<rect x="1646.6" y="1062.5" width="69.2" height="107.8" fill="none" stroke="#444" stroke-width="1"/>
<path d="M1646.6,1062.5 L1715.8,1170.3 M1715.8,1062.5 L1646.6,1170.3" stroke="#333" stroke-width="1"/>
<rect x="1740" y="1049.7" width="33.6" height="9.0" fill="#4a4a4c"/>
<rect x="1740" y="1191.8" width="33.6" height="9.6" fill="#4a4a4c"/>
<line x1="1775" y1="1058.7" x2="1800" y2="1058.7" stroke="#555" stroke-width="1.2" stroke-dasharray="9 6.5"/>
<rect x="1764" y="1191.8" width="9.6" height="13.9" fill="#4a4a4c"/>
<rect x="1764" y="1251.4" width="9.6" height="25.6" fill="#4a4a4c"/>
<path d="M1768.8,1205.7 L1732.8,1237.9 A45.7,45.7 0 0 0 1768.8,1251.4" fill="none" stroke="#2a2a2a" stroke-width="1.15"/>
<rect x="1100" y="1270" width="48.2" height="7" fill="#4a4a4c"/>
<rect x="1196.5" y="1270" width="214.8" height="7" fill="#4a4a4c"/>
<rect x="1459.5" y="1270" width="225.7" height="7" fill="#4a4a4c"/>
<rect x="1733.4" y="1270" width="66.6" height="7" fill="#4a4a4c"/>
<path d="M1148.2,1273.2 L1182,1238.5 A46.7,46.7 0 0 1 1194.9,1273.2" fill="none" stroke="#2a2a2a" stroke-width="1.15"/>
<path d="M1411.3,1273.2 L1444.7,1238.5 A47.2,47.2 0 0 1 1458.5,1273.2" fill="none" stroke="#2a2a2a" stroke-width="1.15"/>
<path d="M1733.4,1273.2 L1700.6,1238.5 A46.6,46.6 0 0 0 1686.8,1273.2" fill="none" stroke="#2a2a2a" stroke-width="1.15"/>
<rect x="1491.6" y="1270" width="8.7" height="80.4" fill="#4a4a4c"/>
<rect x="1455" y="1345.6" width="40.5" height="4.8" fill="#4a4a4c"/>
<rect x="1500.3" y="1277" width="104.5" height="7.5" fill="#fff"/>
<rect x="1500.3" y="1284.5" width="104.5" height="9.5" fill="#4a4a4c"/>
<rect x="1495.5" y="1305.4" width="109.3" height="4.8" fill="#4a4a4c"/>
<rect x="1604.8" y="1270" width="8.1" height="210" fill="#4a4a4c"/>
<rect x="1604.8" y="1305.4" width="8.1" height="53.1" fill="url(#hatch)"/>
<rect x="1612.9" y="1349.8" width="65.9" height="5.4" fill="#4a4a4c"/>
<rect x="1673.9" y="1349.8" width="4.9" height="19.9" fill="#4a4a4c"/>
<rect x="1612.9" y="1365" width="101.3" height="4.7" fill="#4a4a4c"/>
<line x1="1714" y1="1365" x2="1762.4" y2="1365" stroke="#555" stroke-width="1.2" stroke-dasharray="9 6.5"/>
<line x1="1678.8" y1="1278" x2="1678.8" y2="1350" stroke="#555" stroke-width="1.2" stroke-dasharray="9 6.5"/>
<rect x="1759.2" y="1365" width="9.6" height="53" fill="#4a4a4c"/>
<rect x="1759.2" y="1365" width="9.6" height="53" fill="url(#hatch)"/>
<rect x="1214" y="1277" width="5.6" height="33" fill="#4a4a4c"/>
<rect x="1214" y="1345.6" width="5.6" height="40.2" fill="#4a4a4c"/>
<rect x="1298.7" y="1277" width="4.5" height="112" fill="#4a4a4c"/>
<rect x="1313.8" y="1277" width="8.1" height="203" fill="#4a4a4c"/>
<rect x="1405.5" y="1277" width="5.8" height="38" fill="#4a4a4c"/>
<rect x="1405.5" y="1353.6" width="5.8" height="38.6" fill="#4a4a4c"/>
<rect x="1190" y="1384.2" width="123.8" height="4.8" fill="#4a4a4c"/>
<rect x="1321.9" y="1390.6" width="89.4" height="4.8" fill="#4a4a4c"/>
<rect x="1321.9" y="1289.3" width="54.6" height="4.8" fill="#4a4a4c"/>
<rect x="1373.3" y="1277" width="3.2" height="17.1" fill="#4a4a4c"/>
<line x1="1144.4" y1="1384" x2="1189" y2="1384" stroke="#555" stroke-width="1.2" stroke-dasharray="9 6.5"/>
<path d="M1216.4,1345.6 L1190,1336 A35.4,35.4 0 0 1 1216.4,1310.2" fill="none" stroke="#2a2a2a" stroke-width="1.15"/>
<path d="M1408,1353.6 L1436,1342.4 A38.6,38.6 0 0 0 1408,1315" fill="none" stroke="#2a2a2a" stroke-width="1.15"/>
<path d="M1452,1393.8 L1423.2,1421.2 A40.7,40.7 0 0 1 1411.3,1393.8" fill="none" stroke="#2a2a2a" stroke-width="1.15"/>
<rect x="1450.5" y="1392.2" width="4.8" height="87.8" fill="#4a4a4c"/>
<line x1="1455" y1="1350.4" x2="1455" y2="1389" stroke="#555" stroke-width="1.2" stroke-dasharray="9 6.5"/>
<rect x="1740" y="1058.7" width="33.6" height="133.1" fill="#e4e4e6"/>
<line x1="1773.4" y1="1058.2" x2="1826.2" y2="1058.2" stroke="#555" stroke-width="1.2" stroke-dasharray="9 6.5"/>
<line x1="1916" y1="980" x2="1916" y2="1033.6" stroke="#555" stroke-width="1.2" stroke-dasharray="9 6.5"/>
<line x1="1989.8" y1="980" x2="2037.8" y2="980" stroke="#555" stroke-width="1.2" stroke-dasharray="9 6.5"/>
<rect x="2036.5" y="978.3" width="4.9" height="51.7" fill="#4a4a4c"/>
<rect x="2036.5" y="1021.3" width="134.1" height="8.7" fill="#4a4a4c"/>
<rect x="2036.5" y="1021.3" width="52.9" height="8.7" fill="url(#hatch)"/>
<rect x="2131.2" y="1036" width="51.8" height="139" fill="#e4e4e6"/>
<rect x="2115.2" y="1030" width="16.0" height="43" fill="#4a4a4c"/>
<rect x="2115.2" y="1154" width="16.0" height="35.8" fill="#4a4a4c"/>
<rect x="2115.2" y="1073" width="16.0" height="81" fill="#fff"/>
<line x1="2130.7" y1="1073" x2="2130.7" y2="1154" stroke="#222" stroke-width="1"/>
<rect x="2123.5" y="1074" width="3.2" height="79" fill="none" stroke="#333" stroke-width="0.9"/>
<line x1="2115.2" y1="1073.5" x2="2127.2" y2="1073.5" stroke="#222" stroke-width="1"/>
<line x1="2115.2" y1="1153.5" x2="2127.2" y2="1153.5" stroke="#222" stroke-width="1"/>
<line x1="2115.7" y1="1073" x2="2115.7" y2="1154" stroke="#888" stroke-width="1"/>
<path d="M2126.3,1074.2 L2098,1098.8 A35.7,35.7 0 0 0 2126.3,1109.9" fill="none" stroke="#2a2a2a" stroke-width="1.15"/>
<rect x="2115.2" y="1030" width="74.8" height="6" fill="#4a4a4c"/>
<rect x="2183" y="1036" width="7" height="26" fill="#4a4a4c"/>
<rect x="2183" y="1062" width="7" height="88.4" fill="#fff"/>
<line x1="2189.5" y1="1062" x2="2189.5" y2="1150.4" stroke="#222" stroke-width="1"/>
<rect x="2182.3" y="1063" width="3.2" height="86.4" fill="none" stroke="#333" stroke-width="0.9"/>
<line x1="2183" y1="1062.5" x2="2186" y2="1062.5" stroke="#222" stroke-width="1"/>
<line x1="2183" y1="1149.9" x2="2186" y2="1149.9" stroke="#222" stroke-width="1"/>
<line x1="2183.5" y1="1062" x2="2183.5" y2="1150.4" stroke="#888" stroke-width="1"/>
<rect x="2183" y="1150.4" width="7" height="39.4" fill="#4a4a4c"/>
<rect x="2137.4" y="1133.2" width="38" height="29.5" fill="none" stroke="#555" stroke-width="1"/>
<path d="M2175.4,1133.2 L2137.4,1148 L2175.4,1162.7" fill="none" stroke="#555" stroke-width="1"/>
<rect x="2147" y="1166.4" width="27.3" height="8.6" fill="none" stroke="#555" stroke-width="1"/>
<rect x="2115.2" y="1175" width="74.8" height="14.8" fill="#4a4a4c"/>
<rect x="1961.5" y="1181.2" width="52.9" height="8.1" fill="url(#hatch)"/>
<rect x="1826.2" y="1032.4" width="5.0" height="186.9" fill="#4a4a4c"/>
<path d="M1830,1034.8 L1855.8,1010.3 A35.6,35.6 0 0 1 1865.6,1034.8" fill="none" stroke="#2a2a2a" stroke-width="1.15"/>
<rect x="1865.6" y="1033.5" width="50.1" height="4.1" fill="#4a4a4c"/>
<rect x="1895.8" y="1037" width="4.7" height="65.6" fill="#4a4a4c"/>
<rect x="1885.3" y="1099" width="15.2" height="4.8" fill="#4a4a4c"/>
<rect x="1885.3" y="1099" width="4.7" height="34" fill="#4a4a4c"/>
<rect x="1911" y="1033.5" width="4.7" height="104.8" fill="#4a4a4c"/>
<rect x="1740" y="1133" width="155.8" height="9.4" fill="#4a4a4c"/>
<rect x="1895.8" y="1133" width="19.9" height="5.3" fill="#4a4a4c"/>
<path d="M1830,1216.9 L1855.8,1242.7 A35.6,35.6 0 0 0 1865.6,1216.9" fill="none" stroke="#2a2a2a" stroke-width="1.15"/>
<rect x="1891" y="1142.4" width="5" height="76.1" fill="#4a4a4c"/>
<rect x="1906.4" y="1135.4" width="9.3" height="53.9" fill="#4a4a4c"/>
<rect x="1906.4" y="1181" width="208.8" height="8.3" fill="#4a4a4c"/>
<rect x="1926.3" y="1189" width="5.2" height="29.5" fill="#4a4a4c"/>
<rect x="1865.6" y="1215" width="65.9" height="3.5" fill="#4a4a4c"/>
<line x1="1773.4" y1="1192.3" x2="1826.2" y2="1192.3" stroke="#555" stroke-width="1.2" stroke-dasharray="9 6.5"/>
<line x1="1931.3" y1="1220" x2="1931.3" y2="1270" stroke="#555" stroke-width="1.2" stroke-dasharray="9 6.5"/>
<rect x="2170.6" y="1182.4" width="8.4" height="52.9" fill="url(#hatch)"/>
<rect x="2170.6" y="1252.5" width="19.4" height="89.8" fill="#fff"/>
<line x1="2189.5" y1="1252.5" x2="2189.5" y2="1342.3" stroke="#222" stroke-width="1"/>
<rect x="2182.3" y="1253.5" width="3.2" height="87.8" fill="none" stroke="#333" stroke-width="0.9"/>
<line x1="2170.6" y1="1253.0" x2="2186" y2="1253.0" stroke="#222" stroke-width="1"/>
<line x1="2170.6" y1="1341.8" x2="2186" y2="1341.8" stroke="#222" stroke-width="1"/>
<line x1="2171.1" y1="1252.5" x2="2171.1" y2="1342.3" stroke="#888" stroke-width="1"/>
<rect x="2170.6" y="1343.5" width="8.4" height="56.5" fill="url(#hatch)"/>
<rect x="1750" y="1269.7" width="243.5" height="8.6" fill="#4a4a4c"/>
<rect x="1812.7" y="1278.3" width="4.9" height="41.7" fill="#4a4a4c"/>
<rect x="1898.8" y="1270" width="8.6" height="210" fill="#4a4a4c"/>
<rect x="1987.3" y="1270" width="6.2" height="84.6" fill="#4a4a4c"/>
<rect x="1817.6" y="1288.2" width="81.2" height="4.8" fill="#4a4a4c"/>
<rect x="2040.2" y="1353.4" width="130.4" height="4.9" fill="#4a4a4c"/>
<rect x="2040.2" y="1353.4" width="4.8" height="7.6" fill="#4a4a4c"/>
<rect x="1174.6" y="1588.3" width="102.8" height="20.4" fill="#fff"/>
<line x1="1174.6" y1="1608.2" x2="1277.4" y2="1608.2" stroke="#222" stroke-width="1"/>
<rect x="1175.6" y="1601.0" width="100.8" height="3.2" fill="none" stroke="#333" stroke-width="0.9"/>
<line x1="1175.1" y1="1588.3" x2="1175.1" y2="1604.7" stroke="#222" stroke-width="1"/>
<line x1="1276.9" y1="1588.3" x2="1276.9" y2="1604.7" stroke="#222" stroke-width="1"/>
<line x1="1174.6" y1="1588.8" x2="1277.4" y2="1588.8" stroke="#888" stroke-width="1"/>
<path d="M1175.8,1601.3 L1198.5,1578.7 A32.0,32.0 0 0 1 1207.8,1601.3" fill="none" stroke="#2a2a2a" stroke-width="1.15"/>
<rect x="1334.5" y="1588.3" width="71.8" height="20.4" fill="#fff"/>
<line x1="1334.5" y1="1608.2" x2="1406.3" y2="1608.2" stroke="#222" stroke-width="1"/>
<rect x="1335.5" y="1601.0" width="69.8" height="3.2" fill="none" stroke="#333" stroke-width="0.9"/>
<line x1="1335.0" y1="1588.3" x2="1335.0" y2="1604.7" stroke="#222" stroke-width="1"/>
<line x1="1405.8" y1="1588.3" x2="1405.8" y2="1604.7" stroke="#222" stroke-width="1"/>
<line x1="1334.5" y1="1588.8" x2="1406.3" y2="1588.8" stroke="#888" stroke-width="1"/>
<rect x="1118" y="1608.7" width="183.3" height="49.1" fill="#fff"/>
<rect x="1121" y="1608.7" width="177.3" height="46.1" fill="#e4e4e6"/>
<path d="M1118.5,1608.7 V1657.3 H1300.8 V1608.7 M1121.5,1608.7 V1654.3 H1297.8 V1608.7" fill="none" stroke="#6e6e6e" stroke-width="1"/>
<rect x="1466" y="1553.3" width="131.6" height="49.2" fill="#e4e4e6"/>
<rect x="1450.5" y="1538.6" width="163.1" height="14.7" fill="#4a4a4c"/>
<rect x="1450.5" y="1538.6" width="15.5" height="70.1" fill="#4a4a4c"/>
<rect x="1450.5" y="1540" width="8.5" height="58" fill="url(#hatch)"/>
<rect x="1597.6" y="1538.6" width="16.0" height="70.1" fill="#4a4a4c"/>
<rect x="1604.5" y="1540" width="9.1" height="58" fill="url(#hatch)"/>
<rect x="1477" y="1538.6" width="66.5" height="14.7" fill="#fff"/>
<line x1="1477" y1="1552.8" x2="1543.5" y2="1552.8" stroke="#222" stroke-width="1"/>
<rect x="1478" y="1545.6" width="64.5" height="3.2" fill="none" stroke="#333" stroke-width="0.9"/>
<line x1="1477.5" y1="1538.6" x2="1477.5" y2="1549.3" stroke="#222" stroke-width="1"/>
<line x1="1543.0" y1="1538.6" x2="1543.0" y2="1549.3" stroke="#222" stroke-width="1"/>
<line x1="1477" y1="1539.1" x2="1543.5" y2="1539.1" stroke="#888" stroke-width="1"/>
<path d="M1478.3,1546 L1501.2,1523.8 A32.0,32.0 0 0 1 1510.3,1546" fill="none" stroke="#2a2a2a" stroke-width="1.15"/>
<rect x="1467.3" y="1602.5" width="100.8" height="6.2" fill="#fff"/>
<line x1="1467.3" y1="1608.2" x2="1568.1" y2="1608.2" stroke="#222" stroke-width="1"/>
<rect x="1468.3" y="1601.0" width="98.8" height="3.2" fill="none" stroke="#333" stroke-width="0.9"/>
<line x1="1467.8" y1="1602.5" x2="1467.8" y2="1604.7" stroke="#222" stroke-width="1"/>
<line x1="1567.6" y1="1602.5" x2="1567.6" y2="1604.7" stroke="#222" stroke-width="1"/>
<line x1="1467.3" y1="1603.0" x2="1568.1" y2="1603.0" stroke="#888" stroke-width="1"/>
<rect x="1313.6" y="1389" width="8.6" height="199.3" fill="#4a4a4c"/>
<rect x="1313.6" y="1389" width="8.6" height="50" fill="url(#hatch)"/>
<rect x="1313.6" y="1536" width="8.6" height="52.3" fill="url(#hatch)"/>
<rect x="1450.5" y="1391.5" width="4.9" height="147.1" fill="#4a4a4c"/>
<rect x="1605" y="1300" width="8.6" height="288.3" fill="#4a4a4c"/>
<rect x="1605" y="1536" width="8.6" height="52.3" fill="url(#hatch)"/>
<rect x="1605" y="1305.4" width="8.6" height="53.1" fill="url(#hatch)"/>
<rect x="1604.8" y="1536" width="8.8" height="52.3" fill="url(#hatch)"/>
<rect x="1629.5" y="1588.3" width="102.8" height="20.4" fill="#fff"/>
<line x1="1629.5" y1="1608.2" x2="1732.3" y2="1608.2" stroke="#222" stroke-width="1"/>
<rect x="1630.5" y="1601.0" width="100.8" height="3.2" fill="none" stroke="#333" stroke-width="0.9"/>
<line x1="1630.0" y1="1588.3" x2="1630.0" y2="1604.7" stroke="#222" stroke-width="1"/>
<line x1="1731.8" y1="1588.3" x2="1731.8" y2="1604.7" stroke="#222" stroke-width="1"/>
<line x1="1629.5" y1="1588.8" x2="1732.3" y2="1588.8" stroke="#888" stroke-width="1"/>
<path d="M1730.3,1601.3 L1708.2,1578.7 A31.9,31.9 0 0 0 1698.4,1601.3" fill="none" stroke="#2a2a2a" stroke-width="1.15"/>
<rect x="1789.4" y="1588.3" width="71.8" height="20.4" fill="#fff"/>
<line x1="1789.4" y1="1608.2" x2="1861.2" y2="1608.2" stroke="#222" stroke-width="1"/>
<rect x="1790.4" y="1601.0" width="69.8" height="3.2" fill="none" stroke="#333" stroke-width="0.9"/>
<line x1="1789.9" y1="1588.3" x2="1789.9" y2="1604.7" stroke="#222" stroke-width="1"/>
<line x1="1860.7" y1="1588.3" x2="1860.7" y2="1604.7" stroke="#222" stroke-width="1"/>
<line x1="1789.4" y1="1588.8" x2="1861.2" y2="1588.8" stroke="#888" stroke-width="1"/>
<rect x="1922.2" y="1588.3" width="72.5" height="20.4" fill="#fff"/>
<line x1="1922.2" y1="1608.2" x2="1994.7" y2="1608.2" stroke="#222" stroke-width="1"/>
<rect x="1923.2" y="1601.0" width="70.5" height="3.2" fill="none" stroke="#333" stroke-width="0.9"/>
<line x1="1922.7" y1="1588.3" x2="1922.7" y2="1604.7" stroke="#222" stroke-width="1"/>
<line x1="1994.2" y1="1588.3" x2="1994.2" y2="1604.7" stroke="#222" stroke-width="1"/>
<line x1="1922.2" y1="1588.8" x2="1994.7" y2="1588.8" stroke="#888" stroke-width="1"/>
<rect x="1603.7" y="1608.7" width="183.3" height="49.1" fill="#fff"/>
<rect x="1606.7" y="1608.7" width="177.3" height="46.1" fill="#e4e4e6"/>
<path d="M1604.2,1608.7 V1657.3 H1786.5 V1608.7 M1607.2,1608.7 V1654.3 H1783.5 V1608.7" fill="none" stroke="#6e6e6e" stroke-width="1"/>
<rect x="1759.9" y="1365.2" width="9.8" height="223.1" fill="#4a4a4c"/>
<rect x="1759.9" y="1536" width="9.8" height="52.3" fill="url(#hatch)"/>
<rect x="1759.9" y="1365.2" width="9.8" height="52.8" fill="url(#hatch)"/>
<path d="M1769.7,1367.6 L1798.7,1394.7 A40.6,40.6 0 0 0 1810.3,1366.4" fill="none" stroke="#2a2a2a" stroke-width="1.15"/>
<rect x="1812.7" y="1278.3" width="5.0" height="42.7" fill="#4a4a4c"/>
<rect x="1812.7" y="1357.8" width="5.0" height="43.0" fill="#4a4a4c"/>
<path d="M1815.2,1321 L1788.1,1346.7 A36.8,36.8 0 0 0 1815.2,1357.8" fill="none" stroke="#2a2a2a" stroke-width="1.15"/>
<rect x="1812.7" y="1395.4" width="85.6" height="5.4" fill="#4a4a4c"/>
<rect x="1898.3" y="1278" width="9.1" height="310.3" fill="#4a4a4c"/>
<rect x="1898.3" y="1394.7" width="9.1" height="52.9" fill="url(#hatch)"/>
<rect x="1898.3" y="1536" width="9.1" height="52.3" fill="url(#hatch)"/>
<rect x="1918.5" y="1341.3" width="3.7" height="59.5" fill="#4a4a4c"/>
<rect x="1907.4" y="1341.3" width="14.8" height="4.2" fill="#4a4a4c"/>
<rect x="1907.4" y="1400.8" width="88.6" height="5.0" fill="#4a4a4c"/>
<rect x="1988.6" y="1278" width="4.9" height="77.3" fill="#4a4a4c"/>
<rect x="1988.6" y="1392.2" width="4.9" height="8.6" fill="#4a4a4c"/>
<path d="M1991,1355.3 L2018.1,1381.2 A36.9,36.9 0 0 1 1991,1392.2" fill="none" stroke="#2a2a2a" stroke-width="1.15"/>
<path d="M2036.5,1404.5 L2009.5,1430.3 A39.3,39.3 0 0 1 1997.2,1404.5" fill="none" stroke="#2a2a2a" stroke-width="1.15"/>
<rect x="2032" y="1399" width="4.5" height="6.8" fill="#4a4a4c"/>
<rect x="2170.1" y="1343" width="9.9" height="51.7" fill="url(#hatch)"/>
<rect x="2170.1" y="1494.3" width="9.9" height="52.9" fill="url(#hatch)"/>
<path d="M2043.5,1361.5 L2070.5,1387.3 A36.9,36.9 0 0 1 2043.5,1398.4" fill="none" stroke="#2a2a2a" stroke-width="1.15"/>
<rect x="2039.8" y="1400.8" width="4.9" height="137.8" fill="#4a4a4c"/>
<rect x="2055.8" y="1553.3" width="127.9" height="48.7" fill="#e4e4e6"/>
<rect x="2039.8" y="1538.6" width="150.7" height="14.7" fill="#4a4a4c"/>
<rect x="2039.8" y="1538.6" width="16.0" height="70.1" fill="#4a4a4c"/>
<rect x="2039.8" y="1540" width="9.8" height="58" fill="url(#hatch)"/>
<rect x="2063.2" y="1538.6" width="65.1" height="14.7" fill="#fff"/>
<line x1="2063.2" y1="1552.8" x2="2128.3" y2="1552.8" stroke="#222" stroke-width="1"/>
<rect x="2064.2" y="1545.6" width="63.1" height="3.2" fill="none" stroke="#333" stroke-width="0.9"/>
<line x1="2063.7" y1="1538.6" x2="2063.7" y2="1549.3" stroke="#222" stroke-width="1"/>
<line x1="2127.8" y1="1538.6" x2="2127.8" y2="1549.3" stroke="#222" stroke-width="1"/>
<line x1="2063.2" y1="1539.1" x2="2128.3" y2="1539.1" stroke="#888" stroke-width="1"/>
<path d="M2064.4,1546 L2087.3,1523.8 A32.0,32.0 0 0 1 2096.4,1546" fill="none" stroke="#2a2a2a" stroke-width="1.15"/>
<rect x="2183.7" y="1553.3" width="6.8" height="55.4" fill="#4a4a4c"/>
<rect x="2055.8" y="1602" width="98.4" height="6.7" fill="#fff"/>
<line x1="2055.8" y1="1608.2" x2="2154.2" y2="1608.2" stroke="#222" stroke-width="1"/>
<rect x="2056.8" y="1601.0" width="96.4" height="3.2" fill="none" stroke="#333" stroke-width="0.9"/>
<line x1="2056.3" y1="1602" x2="2056.3" y2="1604.7" stroke="#222" stroke-width="1"/>
<line x1="2153.7" y1="1602" x2="2153.7" y2="1604.7" stroke="#222" stroke-width="1"/>
<line x1="2055.8" y1="1602.5" x2="2154.2" y2="1602.5" stroke="#888" stroke-width="1"/>
<path d="M1010,914.5 H987.624 A7.224000000000019,7.224000000000019 0 0 0 980.4,921.724 V924.476 A7.224000000000019,7.224000000000019 0 0 0 987.624,931.7 H1010" fill="none" stroke="#555" stroke-width="1"/>
<path d="M1001,914.5 V931.7 M1005,914.5 V931.7 " stroke="#555" stroke-width="1"/>
<rect x="989" y="947.7" width="36.9" height="36.9" rx="0" fill="none" stroke="#888" stroke-width="0.9"/>
<rect x="991" y="949.7" width="32.9" height="32.9" rx="3" fill="none" stroke="#555" stroke-width="1.0"/>
<path d="M995,953.7 L1019.9000000000001,978.6 M995,979.6 H1018.9000000000001 M1020.9000000000001,953.7 V977.6" stroke="#444" stroke-width="0.9" fill="none"/>
<circle cx="1020.9000000000001" cy="979.6" r="1" fill="#444"/>
<rect x="941" y="968.6" width="25.9" height="16.0" rx="0" fill="none" stroke="#777" stroke-width="0.9"/>
<rect x="943" y="970.6" width="21.9" height="12.0" rx="0" fill="none" stroke="#555" stroke-width="0.9"/>
<circle cx="953.95" cy="976.6" r="0.9" fill="#444"/>
<rect x="1198" y="844.4" width="103" height="25.8" rx="0" fill="none" stroke="#8a8a8a" stroke-width="0.9"/>
<path d="M1206.0,857.3 L1215.0,857.3 M1207.3,854.1 L1213.7,860.5 M1210.5,852.8 L1210.5,861.8 M1213.7,854.1 L1207.3,860.5 " stroke="#333" stroke-width="0.9"/>
<line x1="1223" y1="844.4" x2="1223" y2="870.2" stroke="#8a8a8a" stroke-width="0.9"/>
<path d="M1234.75,852.3 C1235.75,855.3 1237.75,857.3 1237.75,859.3 A3,3 0 0 1 1231.75,859.3 C1231.75,857.3 1233.75,855.3 1234.75,852.3 Z" fill="none" stroke="#333" stroke-width="0.9"/>
<line x1="1246.5" y1="844.4" x2="1246.5" y2="870.2" stroke="#8a8a8a" stroke-width="0.9"/>
<rect x="1248.0" y="845.9" width="24.0" height="22.8" rx="0" fill="none" stroke="#666" stroke-width="0.9"/>
<rect x="1250.5" y="848.4" width="19.0" height="17.8" rx="0" fill="none" stroke="#555" stroke-width="0.9"/>
<path d="M1260.0,844.4 V857.3" stroke="#333" stroke-width="1.6"/>
<circle cx="1260.0" cy="857.3" r="1" fill="#444"/>
<line x1="1273.5" y1="844.4" x2="1273.5" y2="870.2" stroke="#8a8a8a" stroke-width="0.9"/>
<rect x="1275.4" y="779.2" width="25.6" height="65.2" rx="0" fill="none" stroke="#8a8a8a" stroke-width="0.9"/>
<line x1="1275.4" y1="791.5" x2="1301" y2="791.5" stroke="#8a8a8a" stroke-width="0.9"/>
<rect x="1276.9" y="793.0" width="22.6" height="24.1" rx="0" fill="none" stroke="#666" stroke-width="0.9"/>
<circle cx="1283.1" cy="799.6" r="3.3" fill="none" stroke="#555" stroke-width="0.9"/>
<circle cx="1292.8" cy="800.2" r="4.4" fill="none" stroke="#555" stroke-width="0.9"/>
<circle cx="1283.1" cy="810.5" r="4.1" fill="none" stroke="#555" stroke-width="0.9"/>
<circle cx="1293.3" cy="810.5" r="3.3" fill="none" stroke="#555" stroke-width="0.9"/>
<line x1="1275.4" y1="818.6" x2="1301" y2="818.6" stroke="#8a8a8a" stroke-width="0.9"/>
<rect x="1227.5" y="875.2" width="73.5" height="33.1" rx="0" fill="none" stroke="#8a8a8a" stroke-width="0.9"/>
<path d="M1242.926,877.7 H1292.5 A6,6 0 0 1 1298.5,883.7 V899.8 A6,6 0 0 1 1292.5,905.8 H1242.926 A12.92599999999996,12.92599999999996 0 0 1 1230.0,892.874 V890.626 A12.92599999999996,12.92599999999996 0 0 1 1242.926,877.7 Z" fill="none" stroke="#555" stroke-width="1"/>
<circle cx="1293" cy="891.75" r="1.1" fill="#444"/>
<rect x="1282.3" y="910.8" width="17.7" height="28.2" rx="0" fill="none" stroke="#777" stroke-width="0.9"/>
<rect x="1284.3" y="912.8" width="13.7" height="24.2" rx="0" fill="none" stroke="#555" stroke-width="0.9"/>
<circle cx="1291.15" cy="924.9" r="0.9" fill="#444"/>
<path d="M1301,947.7 H1277.22 A6.72,6.72 0 0 0 1270.5,954.4200000000001 V956.98 A6.72,6.72 0 0 0 1277.22,963.7 H1301" fill="none" stroke="#555" stroke-width="1"/>
<path d="M1292,947.7 V963.7 M1296,947.7 V963.7 " stroke="#555" stroke-width="1"/>
<rect x="1218.9" y="949" width="25.8" height="22" rx="0" fill="none" stroke="#888" stroke-width="0.9"/>
<path d="M1235.4,960.0 A3.6,3.6 0 1 1 1228.2000000000003,960.0 A3.6,3.6 0 1 1 1235.4,960.0 M1235.4,960.0 L1235.4,953.0 M1231.8000000000002,956.4 L1224.8,956.4 M1228.2000000000003,960.0 L1228.2,967.0 M1231.8000000000002,963.6 L1238.8,963.6 " stroke="#333" stroke-width="0.9" fill="none" transform="rotate(-12 1231.8000000000002 960.0)"/>
<rect x="1325.9" y="853.5" width="73.7" height="32.7" rx="0" fill="none" stroke="#8a8a8a" stroke-width="0.9"/>
<path d="M1334.4,856.0 H1384.358 A12.742000000000022,12.742000000000022 0 0 1 1397.1,868.7420000000001 V870.958 A12.742000000000022,12.742000000000022 0 0 1 1384.358,883.7 H1334.4 A6,6 0 0 1 1328.4,877.7 V862.0 A6,6 0 0 1 1334.4,856.0 Z" fill="none" stroke="#555" stroke-width="1"/>
<circle cx="1333.9" cy="869.85" r="1.1" fill="#444"/>
<rect x="1327" y="888.7" width="18.5" height="28.3" rx="0" fill="none" stroke="#777" stroke-width="0.9"/>
<rect x="1329" y="890.7" width="14.5" height="24.3" rx="0" fill="none" stroke="#555" stroke-width="0.9"/>
<circle cx="1336.25" cy="902.85" r="0.9" fill="#444"/>
<path d="M1326,925.5 H1348.68 A6.72,6.72 0 0 1 1355.4,932.22 V934.78 A6.72,6.72 0 0 1 1348.68,941.5 H1326" fill="none" stroke="#555" stroke-width="1"/>
<path d="M1335,925.5 V941.5 M1331,925.5 V941.5 " stroke="#555" stroke-width="1"/>
<rect x="1378.7" y="934" width="24.6" height="21" rx="0" fill="none" stroke="#888" stroke-width="0.9"/>
<path d="M1394.6,944.5 A3.6,3.6 0 1 1 1387.4,944.5 A3.6,3.6 0 1 1 1394.6,944.5 M1394.6,944.5 L1394.6,937.5 M1391.0,940.9 L1384.0,940.9 M1387.4,944.5 L1387.4,951.5 M1391.0,948.1 L1398.0,948.1 " stroke="#333" stroke-width="0.9" fill="none" transform="rotate(-12 1391.0 944.5)"/>
<rect x="1489.4" y="914.5" width="114.4" height="25.8" rx="0" fill="none" stroke="#8a8a8a" stroke-width="0.9"/>
<path d="M1498.0,927.4 L1507.0,927.4 M1499.3,924.2 L1505.6,930.6 M1502.5,922.9 L1502.5,931.9 M1505.6,924.2 L1499.3,930.6 " stroke="#333" stroke-width="0.9"/>
<line x1="1515.5" y1="914.5" x2="1515.5" y2="940.3" stroke="#8a8a8a" stroke-width="0.9"/>
<path d="M1528.5,922.4 C1529.5,925.4 1531.5,927.4 1531.5,929.4 A3,3 0 0 1 1525.5,929.4 C1525.5,927.4 1527.5,925.4 1528.5,922.4 Z" fill="none" stroke="#333" stroke-width="0.9"/>
<line x1="1541.5" y1="914.5" x2="1541.5" y2="940.3" stroke="#8a8a8a" stroke-width="0.9"/>
<rect x="1543.0" y="916.0" width="33.5" height="22.8" rx="0" fill="none" stroke="#666" stroke-width="0.9"/>
<rect x="1545.5" y="918.5" width="28.5" height="17.8" rx="0" fill="none" stroke="#555" stroke-width="0.9"/>
<path d="M1559.75,914.5 V927.4" stroke="#333" stroke-width="1.6"/>
<circle cx="1559.75" cy="927.4" r="1" fill="#444"/>
<line x1="1578" y1="914.5" x2="1578" y2="940.3" stroke="#8a8a8a" stroke-width="0.9"/>
<rect x="1578" y="848" width="25.8" height="66.5" rx="0" fill="none" stroke="#8a8a8a" stroke-width="0.9"/>
<line x1="1578" y1="861.5" x2="1603.8" y2="861.5" stroke="#8a8a8a" stroke-width="0.9"/>
<rect x="1579.5" y="863.0" width="22.8" height="24.0" rx="0" fill="none" stroke="#666" stroke-width="0.9"/>
<circle cx="1585.7" cy="869.6" r="3.4" fill="none" stroke="#555" stroke-width="0.9"/>
<circle cx="1595.5" cy="870.1" r="4.4" fill="none" stroke="#555" stroke-width="0.9"/>
<circle cx="1585.7" cy="880.4" r="4.1" fill="none" stroke="#555" stroke-width="0.9"/>
<circle cx="1596.1" cy="880.4" r="3.4" fill="none" stroke="#555" stroke-width="0.9"/>
<line x1="1578" y1="888.5" x2="1603.8" y2="888.5" stroke="#8a8a8a" stroke-width="0.9"/>
<rect x="1613.5" y="797.7" width="25.9" height="66.3" rx="0" fill="none" stroke="#8a8a8a" stroke-width="0.9"/>
<line x1="1613.5" y1="811.6" x2="1639.4" y2="811.6" stroke="#8a8a8a" stroke-width="0.9"/>
<rect x="1615.0" y="813.1" width="22.9" height="24.0" rx="0" fill="none" stroke="#666" stroke-width="0.9"/>
<circle cx="1621.3" cy="819.7" r="3.4" fill="none" stroke="#555" stroke-width="0.9"/>
<circle cx="1631.1" cy="820.2" r="4.4" fill="none" stroke="#555" stroke-width="0.9"/>
<circle cx="1621.3" cy="830.5" r="4.1" fill="none" stroke="#555" stroke-width="0.9"/>
<circle cx="1631.6" cy="830.5" r="3.4" fill="none" stroke="#555" stroke-width="0.9"/>
<line x1="1613.5" y1="838.6" x2="1639.4" y2="838.6" stroke="#8a8a8a" stroke-width="0.9"/>
<rect x="1613.5" y="864" width="99.5" height="26" rx="0" fill="none" stroke="#8a8a8a" stroke-width="0.9"/>
<line x1="1639.4" y1="864" x2="1639.4" y2="890" stroke="#8a8a8a" stroke-width="0.9"/>
<rect x="1640.9" y="865.5" width="23.1" height="23.0" rx="0" fill="none" stroke="#666" stroke-width="0.9"/>
<rect x="1643.4" y="868" width="18.1" height="18" rx="0" fill="none" stroke="#555" stroke-width="0.9"/>
<path d="M1652.45,864 V877.0" stroke="#333" stroke-width="1.6"/>
<circle cx="1652.45" cy="877.0" r="1" fill="#444"/>
<line x1="1665.5" y1="864" x2="1665.5" y2="890" stroke="#8a8a8a" stroke-width="0.9"/>
<path d="M1676.0,872.0 C1677.0,875.0 1679.0,877.0 1679.0,879.0 A3,3 0 0 1 1673.0,879.0 C1673.0,877.0 1675.0,875.0 1676.0,872.0 Z" fill="none" stroke="#333" stroke-width="0.9"/>
<line x1="1686.5" y1="864" x2="1686.5" y2="890" stroke="#8a8a8a" stroke-width="0.9"/>
<path d="M1695.2,877.0 L1704.2,877.0 M1696.6,873.8 L1702.9,880.2 M1699.8,872.5 L1699.8,881.5 M1702.9,873.8 L1696.6,880.2 " stroke="#333" stroke-width="0.9"/>
<rect x="1822.6" y="860.4" width="72.4" height="33.2" rx="0" fill="none" stroke="#8a8a8a" stroke-width="0.9"/>
<path d="M1838.072,862.9 H1886.5 A6,6 0 0 1 1892.5,868.9 V885.1 A6,6 0 0 1 1886.5,891.1 H1838.072 A12.97200000000002,12.97200000000002 0 0 1 1825.1,878.128 V875.872 A12.97200000000002,12.97200000000002 0 0 1 1838.072,862.9 Z" fill="none" stroke="#555" stroke-width="1"/>
<circle cx="1887" cy="877.0" r="1.1" fill="#444"/>
<rect x="1876.7" y="895" width="16.0" height="28" rx="0" fill="none" stroke="#777" stroke-width="0.9"/>
<rect x="1878.7" y="897" width="12.0" height="24" rx="0" fill="none" stroke="#555" stroke-width="0.9"/>
<circle cx="1884.7" cy="909.0" r="0.9" fill="#444"/>
<path d="M1895,931.7 H1872.866 A7.2659999999999805,7.2659999999999805 0 0 0 1865.6,938.966 V941.734 A7.2659999999999805,7.2659999999999805 0 0 0 1872.866,949 H1895" fill="none" stroke="#555" stroke-width="1"/>
<path d="M1886,931.7 V949 M1890,931.7 V949 " stroke="#555" stroke-width="1"/>
<rect x="1819" y="934" width="27" height="22" rx="0" fill="none" stroke="#888" stroke-width="0.9"/>
<path d="M1836.1,945.0 A3.6,3.6 0 1 1 1828.9,945.0 A3.6,3.6 0 1 1 1836.1,945.0 M1836.1,945.0 L1836.1,938.0 M1832.5,941.4 L1825.5,941.4 M1828.9,945.0 L1828.9,952.0 M1832.5,948.6 L1839.5,948.6 " stroke="#333" stroke-width="0.9" fill="none" transform="rotate(-12 1832.5 945.0)"/>
<rect x="1906" y="860.4" width="74" height="33.2" rx="0" fill="none" stroke="#8a8a8a" stroke-width="0.9"/>
<path d="M1914.5,862.9 H1964.528 A12.97200000000002,12.97200000000002 0 0 1 1977.5,875.872 V878.128 A12.97200000000002,12.97200000000002 0 0 1 1964.528,891.1 H1914.5 A6,6 0 0 1 1908.5,885.1 V868.9 A6,6 0 0 1 1914.5,862.9 Z" fill="none" stroke="#555" stroke-width="1"/>
<circle cx="1914" cy="877.0" r="1.1" fill="#444"/>
<rect x="1906" y="895" width="18.6" height="28" rx="0" fill="none" stroke="#777" stroke-width="0.9"/>
<rect x="1908" y="897" width="14.6" height="24" rx="0" fill="none" stroke="#555" stroke-width="0.9"/>
<circle cx="1915.3" cy="909.0" r="0.9" fill="#444"/>
<path d="M1906,931.7 H1928.434 A7.2659999999999805,7.2659999999999805 0 0 1 1935.7,938.966 V941.734 A7.2659999999999805,7.2659999999999805 0 0 1 1928.434,949 H1906" fill="none" stroke="#555" stroke-width="1"/>
<path d="M1915,931.7 V949 M1911,931.7 V949 " stroke="#555" stroke-width="1"/>
<rect x="1959" y="938" width="27" height="22" rx="0" fill="none" stroke="#888" stroke-width="0.9"/>
<path d="M1976.1,949.0 A3.6,3.6 0 1 1 1968.9,949.0 A3.6,3.6 0 1 1 1976.1,949.0 M1976.1,949.0 L1976.1,942.0 M1972.5,945.4 L1965.5,945.4 M1968.9,949.0 L1968.9,956.0 M1972.5,952.6 L1979.5,952.6 " stroke="#333" stroke-width="0.9" fill="none" transform="rotate(-12 1972.5 949.0)"/>
<rect x="911.5" y="1150.4" width="92.2" height="27.1" rx="0" fill="none" stroke="#8a8a8a" stroke-width="0.9"/>
<line x1="924" y1="1150.4" x2="924" y2="1177.5" stroke="#8a8a8a" stroke-width="0.9"/>
<rect x="925.5" y="1151.9" width="23.5" height="24.1" rx="0" fill="none" stroke="#666" stroke-width="0.9"/>
<circle cx="932.0" cy="1158.5" r="3.4" fill="none" stroke="#555" stroke-width="0.9"/>
<circle cx="942.0" cy="1159.1" r="4.5" fill="none" stroke="#555" stroke-width="0.9"/>
<circle cx="932.0" cy="1169.4" r="4.2" fill="none" stroke="#555" stroke-width="0.9"/>
<circle cx="942.5" cy="1169.4" r="3.4" fill="none" stroke="#555" stroke-width="0.9"/>
<line x1="950.5" y1="1150.4" x2="950.5" y2="1177.5" stroke="#8a8a8a" stroke-width="0.9"/>
<line x1="976.7" y1="1150.4" x2="976.7" y2="1177.5" stroke="#8a8a8a" stroke-width="0.9"/>
<rect x="976.7" y="1053.3" width="27.0" height="97.1" rx="0" fill="none" stroke="#8a8a8a" stroke-width="0.9"/>
<path d="M985.7,1066.7 L994.7,1066.7 M987.0,1063.5 L993.4,1069.8 M990.2,1062.2 L990.2,1071.2 M993.4,1063.5 L987.0,1069.8 " stroke="#333" stroke-width="0.9"/>
<line x1="976.7" y1="1080" x2="1003.7" y2="1080" stroke="#8a8a8a" stroke-width="0.9"/>
<line x1="976.7" y1="1098.6" x2="1003.7" y2="1098.6" stroke="#8a8a8a" stroke-width="0.9"/>
<path d="M990.2,1106.6 C991.2,1109.6 993.2,1111.6 993.2,1113.6 A3,3 0 0 1 987.2,1113.6 C987.2,1111.6 989.2,1109.6 990.2,1106.6 Z" fill="none" stroke="#333" stroke-width="0.9"/>
<line x1="976.7" y1="1124.6" x2="1003.7" y2="1124.6" stroke="#8a8a8a" stroke-width="0.9"/>
<rect x="978.2" y="1126.1" width="24.0" height="22.8" rx="0" fill="none" stroke="#666" stroke-width="0.9"/>
<rect x="980.7" y="1128.6" width="19.0" height="17.8" rx="0" fill="none" stroke="#555" stroke-width="0.9"/>
<path d="M976.7,1137.5 H990.2" stroke="#333" stroke-width="1.6"/>
<circle cx="990.2" cy="1137.5" r="1" fill="#444"/>
<rect x="1024.6" y="1059.4" width="22.2" height="24.6" rx="0" fill="none" stroke="#888" stroke-width="0.9"/>
<path d="M1039.2999999999997,1071.7 A3.6,3.6 0 1 1 1032.1,1071.7 A3.6,3.6 0 1 1 1039.2999999999997,1071.7 M1039.2999999999997,1071.7 L1039.3,1064.7 M1035.6999999999998,1068.1000000000001 L1028.7,1068.1 M1032.1,1071.7 L1032.1,1078.7 M1035.6999999999998,1075.3 L1042.7,1075.3 " stroke="#333" stroke-width="0.9" fill="none" transform="rotate(-12 1035.6999999999998 1071.7)"/>
<path d="M1034.5,1134.5 V1112.224 A7.224000000000019,7.224000000000019 0 0 1 1041.724,1105 H1044.476 A7.224000000000019,7.224000000000019 0 0 1 1051.7,1112.224 V1134.5" fill="none" stroke="#555" stroke-width="1"/>
<path d="M1034.5,1125.5 H1051.7 M1034.5,1129.5 H1051.7 " stroke="#555" stroke-width="1"/>
<rect x="1064" y="1116" width="28.3" height="18.5" rx="0" fill="none" stroke="#777" stroke-width="0.9"/>
<rect x="1066" y="1118" width="24.3" height="14.5" rx="0" fill="none" stroke="#555" stroke-width="0.9"/>
<circle cx="1078.15" cy="1125.25" r="0.9" fill="#444"/>
<rect x="1093.5" y="1060.7" width="34.5" height="73.8" rx="0" fill="none" stroke="#8a8a8a" stroke-width="0.9"/>
<path d="M1109.57,1063.2 H1111.93 A13.57,13.57 0 0 1 1125.5,1076.77 V1126.0 A6,6 0 0 1 1119.5,1132.0 H1102.0 A6,6 0 0 1 1096.0,1126.0 V1076.77 A13.57,13.57 0 0 1 1109.57,1063.2 Z" fill="none" stroke="#555" stroke-width="1"/>
<circle cx="1110.75" cy="1126.5" r="1.1" fill="#444"/>
<rect x="741" y="1186.3" width="173" height="25.7" rx="0" fill="#fff" stroke="#8a8a8a" stroke-width="0.9"/>
<path d="M749.2,1199.2 L758.2,1199.2 M750.5,1196.0 L756.9,1202.3 M753.7,1194.7 L753.7,1203.7 M756.9,1196.0 L750.5,1202.3 " stroke="#333" stroke-width="0.9"/>
<line x1="766.4" y1="1186.3" x2="766.4" y2="1212" stroke="#8a8a8a" stroke-width="0.9"/>
<line x1="783.6" y1="1186.3" x2="783.6" y2="1212" stroke="#8a8a8a" stroke-width="0.9"/>
<rect x="785.1" y="1187.8" width="22.8" height="22.7" rx="0" fill="none" stroke="#666" stroke-width="0.9"/>
<circle cx="791.3" cy="1194.0" r="3.3" fill="none" stroke="#555" stroke-width="0.9"/>
<circle cx="801.1" cy="1194.5" r="4.4" fill="none" stroke="#555" stroke-width="0.9"/>
<circle cx="791.3" cy="1204.3" r="4.1" fill="none" stroke="#555" stroke-width="0.9"/>
<circle cx="801.7" cy="1204.3" r="3.3" fill="none" stroke="#555" stroke-width="0.9"/>
<line x1="809.4" y1="1186.3" x2="809.4" y2="1212" stroke="#8a8a8a" stroke-width="0.9"/>
<line x1="835.3" y1="1186.3" x2="835.3" y2="1212" stroke="#8a8a8a" stroke-width="0.9"/>
<rect x="836.8" y="1187.8" width="22.8" height="22.7" rx="0" fill="none" stroke="#666" stroke-width="0.9"/>
<rect x="839.3" y="1190.3" width="17.8" height="17.7" rx="0" fill="none" stroke="#555" stroke-width="0.9"/>
<path d="M848.2,1186.3 V1199.15" stroke="#333" stroke-width="1.6"/>
<circle cx="848.2" cy="1199.15" r="1" fill="#444"/>
<line x1="861.1" y1="1186.3" x2="861.1" y2="1212" stroke="#8a8a8a" stroke-width="0.9"/>
<path d="M874.6500000000001,1194.15 C875.6500000000001,1197.15 877.6500000000001,1199.15 877.6500000000001,1201.15 A3,3 0 0 1 871.6500000000001,1201.15 C871.6500000000001,1199.15 873.6500000000001,1197.15 874.6500000000001,1194.15 Z" fill="none" stroke="#333" stroke-width="0.9"/>
<line x1="888.2" y1="1186.3" x2="888.2" y2="1212" stroke="#8a8a8a" stroke-width="0.9"/>
<rect x="922.6" y="1346.7" width="73.8" height="33.3" rx="0" fill="#fff" stroke="#8a8a8a" stroke-width="0.9"/>
<path d="M938.118,1349.2 H987.9 A6,6 0 0 1 993.9,1355.2 V1371.5 A6,6 0 0 1 987.9,1377.5 H938.118 A13.01799999999998,13.01799999999998 0 0 1 925.1,1364.482 V1362.218 A13.01799999999998,13.01799999999998 0 0 1 938.118,1349.2 Z" fill="none" stroke="#555" stroke-width="1"/>
<circle cx="988.4" cy="1363.35" r="1.1" fill="#444"/>
<rect x="978" y="1316" width="18.4" height="29.5" rx="0" fill="#fff" stroke="#777" stroke-width="0.9"/>
<rect x="980" y="1318" width="14.4" height="25.5" rx="0" fill="none" stroke="#555" stroke-width="0.9"/>
<circle cx="987.2" cy="1330.75" r="0.9" fill="#444"/>
<path d="M996.4,1290.6 H974.024 A7.224000000000019,7.224000000000019 0 0 0 966.8,1297.8239999999998 V1300.576 A7.224000000000019,7.224000000000019 0 0 0 974.024,1307.8 H996.4" fill="#fff" stroke="#555" stroke-width="1"/>
<path d="M987.4,1290.6 V1307.8 M991.4,1290.6 V1307.8 " stroke="#555" stroke-width="1"/>
<path d="M1017.3,1294.3 H1040.08 A6.72,6.72 0 0 1 1046.8,1301.02 V1303.58 A6.72,6.72 0 0 1 1040.08,1310.3 H1017.3" fill="#fff" stroke="#555" stroke-width="1"/>
<path d="M1026.3,1294.3 V1310.3 M1022.3,1294.3 V1310.3 " stroke="#555" stroke-width="1"/>
<rect x="1023.4" y="1341" width="25.8" height="24.6" rx="0" fill="#fff" stroke="#888" stroke-width="0.9"/>
<path d="M1039.8999999999999,1353.3 A3.6,3.6 0 1 1 1032.7,1353.3 A3.6,3.6 0 1 1 1039.8999999999999,1353.3 M1039.8999999999999,1353.3 L1039.9,1346.3 M1036.3,1349.7 L1029.3,1349.7 M1032.7,1353.3 L1032.7,1360.3 M1036.3,1356.8999999999999 L1043.3,1356.9 " stroke="#333" stroke-width="0.9" fill="none" transform="rotate(-12 1036.3 1353.3)"/>
<rect x="1051.7" y="1348.4" width="23.3" height="16.0" rx="0" fill="#fff" stroke="#777" stroke-width="0.9"/>
<rect x="1053.7" y="1350.4" width="19.3" height="12.0" rx="0" fill="none" stroke="#555" stroke-width="0.9"/>
<circle cx="1063.35" cy="1356.4" r="0.9" fill="#444"/>
<rect x="1219.8" y="1278.5" width="25.6" height="22.0" rx="0" fill="none" stroke="#888" stroke-width="0.9"/>
<path d="M1236.1999999999998,1289.5 A3.6,3.6 0 1 1 1229.0,1289.5 A3.6,3.6 0 1 1 1236.1999999999998,1289.5 M1236.1999999999998,1289.5 L1236.2,1282.5 M1232.6,1285.9 L1225.6,1285.9 M1229.0,1289.5 L1229.0,1296.5 M1232.6,1293.1 L1239.6,1293.1 " stroke="#333" stroke-width="0.9" fill="none" transform="rotate(-12 1232.6 1289.5)"/>
<path d="M1298,1296 H1275.14 A7.14,7.14 0 0 0 1268,1303.14 V1305.86 A7.14,7.14 0 0 0 1275.14,1313 H1298" fill="none" stroke="#555" stroke-width="1"/>
<path d="M1289,1296 V1313 M1293,1296 V1313 " stroke="#555" stroke-width="1"/>
<rect x="1279" y="1321" width="19" height="28.5" rx="0" fill="none" stroke="#777" stroke-width="0.9"/>
<rect x="1281" y="1323" width="15" height="24.5" rx="0" fill="none" stroke="#555" stroke-width="0.9"/>
<circle cx="1288.5" cy="1335.25" r="0.9" fill="#444"/>
<rect x="1224.2" y="1351" width="73.8" height="33" rx="0" fill="none" stroke="#8a8a8a" stroke-width="0.9"/>
<path d="M1239.5800000000002,1353.5 H1289.5 A6,6 0 0 1 1295.5,1359.5 V1375.5 A6,6 0 0 1 1289.5,1381.5 H1239.5800000000002 A12.88,12.88 0 0 1 1226.7,1368.62 V1366.38 A12.88,12.88 0 0 1 1239.5800000000002,1353.5 Z" fill="none" stroke="#555" stroke-width="1"/>
<circle cx="1290" cy="1367.5" r="1.1" fill="#444"/>
<rect x="1379" y="1279" width="25.8" height="21.6" rx="0" fill="none" stroke="#888" stroke-width="0.9"/>
<path d="M1395.5,1289.8 A3.6,3.6 0 1 1 1388.3000000000002,1289.8 A3.6,3.6 0 1 1 1395.5,1289.8 M1395.5,1289.8 L1395.5,1282.8 M1391.9,1286.2 L1384.9,1286.2 M1388.3000000000002,1289.8 L1388.3,1296.8 M1391.9,1293.3999999999999 L1398.9,1293.4 " stroke="#333" stroke-width="0.9" fill="none" transform="rotate(-12 1391.9 1289.8)"/>
<path d="M1322.5,1302.2 H1345.6380000000001 A6.761999999999961,6.761999999999961 0 0 1 1352.4,1308.962 V1311.538 A6.761999999999961,6.761999999999961 0 0 1 1345.6380000000001,1318.3 H1322.5" fill="none" stroke="#555" stroke-width="1"/>
<path d="M1331.5,1302.2 V1318.3 M1327.5,1302.2 V1318.3 " stroke="#555" stroke-width="1"/>
<rect x="1322.5" y="1327.3" width="19.3" height="27.9" rx="0" fill="none" stroke="#777" stroke-width="0.9"/>
<rect x="1324.5" y="1329.3" width="15.3" height="23.9" rx="0" fill="none" stroke="#555" stroke-width="0.9"/>
<circle cx="1332.15" cy="1341.25" r="0.9" fill="#444"/>
<rect x="1322.5" y="1357.8" width="73.3" height="31.8" rx="0" fill="none" stroke="#8a8a8a" stroke-width="0.9"/>
<path d="M1331.0,1360.3 H1380.972 A12.32799999999998,12.32799999999998 0 0 1 1393.3,1372.628 V1374.772 A12.32799999999998,12.32799999999998 0 0 1 1380.972,1387.1 H1331.0 A6,6 0 0 1 1325.0,1381.1 V1366.3 A6,6 0 0 1 1331.0,1360.3 Z" fill="none" stroke="#555" stroke-width="1"/>
<circle cx="1330.5" cy="1373.6999999999998" r="1.1" fill="#444"/>
<rect x="1189" y="1389" width="124.5" height="26.4" rx="0" fill="none" stroke="#8a8a8a" stroke-width="0.9"/>
<path d="M1197.7,1402.2 L1206.7,1402.2 M1199.0,1399.0 L1205.4,1405.4 M1202.2,1397.7 L1202.2,1406.7 M1205.4,1399.0 L1199.0,1405.4 " stroke="#333" stroke-width="0.9"/>
<line x1="1215.4" y1="1389" x2="1215.4" y2="1415.4" stroke="#8a8a8a" stroke-width="0.9"/>
<line x1="1234.4" y1="1389" x2="1234.4" y2="1415.4" stroke="#8a8a8a" stroke-width="0.9"/>
<path d="M1247.95,1397.2 C1248.95,1400.2 1250.95,1402.2 1250.95,1404.2 A3,3 0 0 1 1244.95,1404.2 C1244.95,1402.2 1246.95,1400.2 1247.95,1397.2 Z" fill="none" stroke="#333" stroke-width="0.9"/>
<line x1="1261.5" y1="1389" x2="1261.5" y2="1415.4" stroke="#8a8a8a" stroke-width="0.9"/>
<rect x="1263.0" y="1390.5" width="22.5" height="23.4" rx="0" fill="none" stroke="#666" stroke-width="0.9"/>
<rect x="1265.5" y="1393" width="17.5" height="18.4" rx="0" fill="none" stroke="#555" stroke-width="0.9"/>
<path d="M1274.25,1389 V1402.2" stroke="#333" stroke-width="1.6"/>
<circle cx="1274.25" cy="1402.2" r="1" fill="#444"/>
<line x1="1287" y1="1389" x2="1287" y2="1415.4" stroke="#8a8a8a" stroke-width="0.9"/>
<rect x="1287" y="1415.4" width="26.5" height="65.9" rx="0" fill="none" stroke="#8a8a8a" stroke-width="0.9"/>
<line x1="1287" y1="1441.7" x2="1313.5" y2="1441.7" stroke="#8a8a8a" stroke-width="0.9"/>
<rect x="1288.5" y="1443.2" width="23.5" height="23.3" rx="0" fill="none" stroke="#666" stroke-width="0.9"/>
<circle cx="1295.0" cy="1449.6" r="3.4" fill="none" stroke="#555" stroke-width="0.9"/>
<circle cx="1305.0" cy="1450.1" r="4.5" fill="none" stroke="#555" stroke-width="0.9"/>
<circle cx="1295.0" cy="1460.1" r="4.2" fill="none" stroke="#555" stroke-width="0.9"/>
<circle cx="1305.5" cy="1460.1" r="3.4" fill="none" stroke="#555" stroke-width="0.9"/>
<line x1="1287" y1="1468" x2="1313.5" y2="1468" stroke="#8a8a8a" stroke-width="0.9"/>
<rect x="1495.5" y="1310" width="109.5" height="26.4" rx="0" fill="none" stroke="#8a8a8a" stroke-width="0.9"/>
<path d="M1504.0,1323.2 L1513.0,1323.2 M1505.3,1320.0 L1511.7,1326.4 M1508.5,1318.7 L1508.5,1327.7 M1511.7,1320.0 L1505.3,1326.4 " stroke="#333" stroke-width="0.9"/>
<line x1="1521.5" y1="1310" x2="1521.5" y2="1336.4" stroke="#8a8a8a" stroke-width="0.9"/>
<path d="M1534.25,1318.2 C1535.25,1321.2 1537.25,1323.2 1537.25,1325.2 A3,3 0 0 1 1531.25,1325.2 C1531.25,1323.2 1533.25,1321.2 1534.25,1318.2 Z" fill="none" stroke="#333" stroke-width="0.9"/>
<line x1="1547" y1="1310" x2="1547" y2="1336.4" stroke="#8a8a8a" stroke-width="0.9"/>
<rect x="1548.5" y="1311.5" width="28.0" height="23.4" rx="0" fill="none" stroke="#666" stroke-width="0.9"/>
<rect x="1551" y="1314" width="23" height="18.4" rx="0" fill="none" stroke="#555" stroke-width="0.9"/>
<path d="M1562.5,1310 V1323.2" stroke="#333" stroke-width="1.6"/>
<circle cx="1562.5" cy="1323.2" r="1" fill="#444"/>
<line x1="1578" y1="1310" x2="1578" y2="1336.4" stroke="#8a8a8a" stroke-width="0.9"/>
<rect x="1578" y="1336.4" width="27" height="64.9" rx="0" fill="none" stroke="#8a8a8a" stroke-width="0.9"/>
<line x1="1578" y1="1362.5" x2="1605" y2="1362.5" stroke="#8a8a8a" stroke-width="0.9"/>
<rect x="1579.5" y="1364.0" width="24.0" height="23.0" rx="0" fill="none" stroke="#666" stroke-width="0.9"/>
<circle cx="1586.1" cy="1370.3" r="3.4" fill="none" stroke="#555" stroke-width="0.9"/>
<circle cx="1596.4" cy="1370.8" r="4.4" fill="none" stroke="#555" stroke-width="0.9"/>
<circle cx="1586.1" cy="1380.7" r="4.2" fill="none" stroke="#555" stroke-width="0.9"/>
<circle cx="1596.9" cy="1380.7" r="3.4" fill="none" stroke="#555" stroke-width="0.9"/>
<line x1="1578" y1="1388.5" x2="1605" y2="1388.5" stroke="#8a8a8a" stroke-width="0.9"/>
<rect x="1613.5" y="1369.4" width="100.9" height="26.6" rx="0" fill="none" stroke="#8a8a8a" stroke-width="0.9"/>
<line x1="1639.4" y1="1369.4" x2="1639.4" y2="1396" stroke="#8a8a8a" stroke-width="0.9"/>
<rect x="1640.9" y="1370.9" width="22.1" height="23.6" rx="0" fill="none" stroke="#666" stroke-width="0.9"/>
<rect x="1643.4" y="1373.4" width="17.1" height="18.6" rx="0" fill="none" stroke="#555" stroke-width="0.9"/>
<path d="M1651.95,1369.4 V1382.7" stroke="#333" stroke-width="1.6"/>
<circle cx="1651.95" cy="1382.7" r="1" fill="#444"/>
<line x1="1664.5" y1="1369.4" x2="1664.5" y2="1396" stroke="#8a8a8a" stroke-width="0.9"/>
<path d="M1675.5,1377.7 C1676.5,1380.7 1678.5,1382.7 1678.5,1384.7 A3,3 0 0 1 1672.5,1384.7 C1672.5,1382.7 1674.5,1380.7 1675.5,1377.7 Z" fill="none" stroke="#333" stroke-width="0.9"/>
<line x1="1686.5" y1="1369.4" x2="1686.5" y2="1396" stroke="#8a8a8a" stroke-width="0.9"/>
<path d="M1696.0,1382.7 L1705.0,1382.7 M1697.3,1379.5 L1703.6,1385.9 M1700.5,1378.2 L1700.5,1387.2 M1703.6,1379.5 L1697.3,1385.9 " stroke="#333" stroke-width="0.9"/>
<rect x="1613.5" y="1396" width="25.9" height="65" rx="0" fill="none" stroke="#8a8a8a" stroke-width="0.9"/>
<line x1="1613.5" y1="1421.7" x2="1639.4" y2="1421.7" stroke="#8a8a8a" stroke-width="0.9"/>
<rect x="1615.0" y="1423.2" width="22.9" height="22.9" rx="0" fill="none" stroke="#666" stroke-width="0.9"/>
<circle cx="1621.3" cy="1429.5" r="3.4" fill="none" stroke="#555" stroke-width="0.9"/>
<circle cx="1631.1" cy="1430.0" r="4.4" fill="none" stroke="#555" stroke-width="0.9"/>
<circle cx="1621.3" cy="1439.8" r="4.1" fill="none" stroke="#555" stroke-width="0.9"/>
<circle cx="1631.6" cy="1439.8" r="3.4" fill="none" stroke="#555" stroke-width="0.9"/>
<line x1="1613.5" y1="1447.6" x2="1639.4" y2="1447.6" stroke="#8a8a8a" stroke-width="0.9"/>
<path d="M1895.8,1046.4 H1873.2359999999999 A6.635999999999981,6.635999999999981 0 0 0 1866.6,1053.036 V1055.564 A6.635999999999981,6.635999999999981 0 0 0 1873.2359999999999,1062.2 H1895.8" fill="none" stroke="#555" stroke-width="1"/>
<path d="M1886.8,1046.4 V1062.2 M1890.8,1046.4 V1062.2 " stroke="#555" stroke-width="1"/>
<rect x="1880" y="1068" width="15.8" height="24" rx="0" fill="none" stroke="#777" stroke-width="0.9"/>
<rect x="1882" y="1070" width="11.8" height="20" rx="0" fill="none" stroke="#555" stroke-width="0.9"/>
<circle cx="1887.9" cy="1080.0" r="0.9" fill="#444"/>
<rect x="1832" y="1098.5" width="52.7" height="34.5" rx="0" fill="none" stroke="#888" stroke-width="0.9"/>
<rect x="1834" y="1100.5" width="48.7" height="30.5" rx="3" fill="none" stroke="#555" stroke-width="1.0"/>
<path d="M1838,1104.5 L1878.7,1127 M1838,1128 H1877.7 M1879.7,1104.5 V1126" stroke="#444" stroke-width="0.9" fill="none"/>
<circle cx="1879.7" cy="1128" r="1" fill="#444"/>
<rect x="1833.2" y="1142.4" width="25.2" height="15.8" rx="0" fill="none" stroke="#777" stroke-width="0.9"/>
<rect x="1835.2" y="1144.4" width="21.2" height="11.8" rx="0" fill="none" stroke="#555" stroke-width="0.9"/>
<circle cx="1845.8000000000002" cy="1150.3000000000002" r="0.9" fill="#444"/>
<rect x="1860" y="1142.4" width="27" height="22.3" rx="0" fill="none" stroke="#888" stroke-width="0.9"/>
<path d="M1877.1,1153.5500000000002 A3.6,3.6 0 1 1 1869.9,1153.5500000000002 A3.6,3.6 0 1 1 1877.1,1153.5500000000002 M1877.1,1153.5500000000002 L1877.1,1146.6 M1873.5,1149.9500000000003 L1866.5,1150.0 M1869.9,1153.5500000000002 L1869.9,1160.6 M1873.5,1157.15 L1880.5,1157.2 " stroke="#333" stroke-width="0.9" fill="none" transform="rotate(-12 1873.5 1153.5500000000002)"/>
<path d="M1891,1185 H1868.02 A6.72,6.72 0 0 0 1861.3,1191.72 V1194.28 A6.72,6.72 0 0 0 1868.02,1201 H1891" fill="none" stroke="#555" stroke-width="1"/>
<path d="M1882,1185 V1201 M1886,1185 V1201 " stroke="#555" stroke-width="1"/>
<rect x="1915.7" y="1033" width="26.3" height="148" rx="0" fill="none" stroke="#8a8a8a" stroke-width="0.9"/>
<path d="M1928.85,1041.2 C1929.85,1044.2 1931.85,1046.2 1931.85,1048.2 A3,3 0 0 1 1925.85,1048.2 C1925.85,1046.2 1927.85,1044.2 1928.85,1041.2 Z" fill="none" stroke="#333" stroke-width="0.9"/>
<line x1="1915.7" y1="1059.4" x2="1942" y2="1059.4" stroke="#8a8a8a" stroke-width="0.9"/>
<rect x="1917.2" y="1060.9" width="23.3" height="22.6" rx="0" fill="none" stroke="#666" stroke-width="0.9"/>
<rect x="1919.7" y="1063.4" width="18.3" height="17.6" rx="0" fill="none" stroke="#555" stroke-width="0.9"/>
<path d="M1915.7,1072.2 H1928.85" stroke="#333" stroke-width="1.6"/>
<circle cx="1928.85" cy="1072.2" r="1" fill="#444"/>
<line x1="1915.7" y1="1085" x2="1942" y2="1085" stroke="#8a8a8a" stroke-width="0.9"/>
<line x1="1915.7" y1="1111.4" x2="1942" y2="1111.4" stroke="#8a8a8a" stroke-width="0.9"/>
<rect x="1917.2" y="1112.9" width="23.3" height="23.9" rx="0" fill="none" stroke="#666" stroke-width="0.9"/>
<circle cx="1923.6" cy="1119.5" r="3.4" fill="none" stroke="#555" stroke-width="0.9"/>
<circle cx="1933.6" cy="1120.0" r="4.5" fill="none" stroke="#555" stroke-width="0.9"/>
<circle cx="1923.6" cy="1130.2" r="4.2" fill="none" stroke="#555" stroke-width="0.9"/>
<circle cx="1934.1" cy="1130.2" r="3.4" fill="none" stroke="#555" stroke-width="0.9"/>
<line x1="1915.7" y1="1138.3" x2="1942" y2="1138.3" stroke="#8a8a8a" stroke-width="0.9"/>
<line x1="1915.7" y1="1156" x2="1942" y2="1156" stroke="#8a8a8a" stroke-width="0.9"/>
<path d="M1924.3,1168.5 L1933.3,1168.5 M1925.7,1165.3 L1932.0,1171.7 M1928.8,1164.0 L1928.8,1173.0 M1932.0,1165.3 L1925.7,1171.7 " stroke="#333" stroke-width="0.9"/>
<rect x="1932" y="1189.3" width="148.8" height="28.3" rx="0" fill="none" stroke="#8a8a8a" stroke-width="0.9"/>
<path d="M1944.35,1198.4499999999998 C1945.35,1201.4499999999998 1947.35,1203.4499999999998 1947.35,1205.4499999999998 A3,3 0 0 1 1941.35,1205.4499999999998 C1941.35,1203.4499999999998 1943.35,1201.4499999999998 1944.35,1198.4499999999998 Z" fill="none" stroke="#333" stroke-width="0.9"/>
<line x1="1956.7" y1="1189.3" x2="1956.7" y2="1217.6" stroke="#8a8a8a" stroke-width="0.9"/>
<rect x="1958.2" y="1190.8" width="23.7" height="25.3" rx="0" fill="none" stroke="#666" stroke-width="0.9"/>
<rect x="1960.7" y="1193.3" width="18.7" height="20.3" rx="0" fill="none" stroke="#555" stroke-width="0.9"/>
<path d="M1970.0500000000002,1189.3 V1203.4499999999998" stroke="#333" stroke-width="1.6"/>
<circle cx="1970.0500000000002" cy="1203.4499999999998" r="1" fill="#444"/>
<line x1="1983.4" y1="1189.3" x2="1983.4" y2="1217.6" stroke="#8a8a8a" stroke-width="0.9"/>
<line x1="2009.4" y1="1189.3" x2="2009.4" y2="1217.6" stroke="#8a8a8a" stroke-width="0.9"/>
<rect x="2010.9" y="1190.8" width="24.0" height="25.3" rx="0" fill="none" stroke="#666" stroke-width="0.9"/>
<circle cx="2017.5" cy="1197.8" r="3.5" fill="none" stroke="#555" stroke-width="0.9"/>
<circle cx="2027.8" cy="1198.4" r="4.6" fill="none" stroke="#555" stroke-width="0.9"/>
<circle cx="2017.5" cy="1209.1" r="4.3" fill="none" stroke="#555" stroke-width="0.9"/>
<circle cx="2028.3" cy="1209.1" r="3.5" fill="none" stroke="#555" stroke-width="0.9"/>
<line x1="2036.4" y1="1189.3" x2="2036.4" y2="1217.6" stroke="#8a8a8a" stroke-width="0.9"/>
<line x1="2054.2" y1="1189.3" x2="2054.2" y2="1217.6" stroke="#8a8a8a" stroke-width="0.9"/>
<path d="M2063.0,1203.4 L2072.0,1203.4 M2064.3,1200.3 L2070.7,1206.6 M2067.5,1198.9 L2067.5,1207.9 M2070.7,1200.3 L2064.3,1206.6 " stroke="#333" stroke-width="0.9"/>
<rect x="1817.6" y="1294.3" width="25.9" height="20.9" rx="0" fill="none" stroke="#888" stroke-width="0.9"/>
<path d="M1834.1499999999999,1304.75 A3.6,3.6 0 1 1 1826.95,1304.75 A3.6,3.6 0 1 1 1834.1499999999999,1304.75 M1834.1499999999999,1304.75 L1834.1,1297.8 M1830.55,1301.15 L1823.5,1301.2 M1826.95,1304.75 L1827.0,1311.8 M1830.55,1308.35 L1837.5,1308.3 " stroke="#333" stroke-width="0.9" fill="none" transform="rotate(-12 1830.55 1304.75)"/>
<path d="M1898.3,1306.9 H1874.93 A6.93,6.93 0 0 0 1868,1313.8300000000002 V1316.47 A6.93,6.93 0 0 0 1874.93,1323.4 H1898.3" fill="none" stroke="#555" stroke-width="1"/>
<path d="M1889.3,1306.9 V1323.4 M1893.3,1306.9 V1323.4 " stroke="#555" stroke-width="1"/>
<rect x="1879.2" y="1331.5" width="18.4" height="28.8" rx="0" fill="none" stroke="#777" stroke-width="0.9"/>
<rect x="1881.2" y="1333.5" width="14.4" height="24.8" rx="0" fill="none" stroke="#555" stroke-width="0.9"/>
<circle cx="1888.4" cy="1345.9" r="0.9" fill="#444"/>
<rect x="1824.3" y="1362.7" width="74.0" height="32.0" rx="0" fill="none" stroke="#8a8a8a" stroke-width="0.9"/>
<path d="M1839.22,1365.2 H1889.8 A6,6 0 0 1 1895.8,1371.2 V1386.2 A6,6 0 0 1 1889.8,1392.2 H1839.22 A12.42,12.42 0 0 1 1826.8,1379.78 V1377.6200000000001 A12.42,12.42 0 0 1 1839.22,1365.2 Z" fill="none" stroke="#555" stroke-width="1"/>
<circle cx="1890.3" cy="1378.7" r="1.1" fill="#444"/>
<rect x="1907.4" y="1274.6" width="73.8" height="32.0" rx="0" fill="none" stroke="#8a8a8a" stroke-width="0.9"/>
<path d="M1915.9,1277.1 H1966.28 A12.42,12.42 0 0 1 1978.7,1289.52 V1291.6799999999998 A12.42,12.42 0 0 1 1966.28,1304.1 H1915.9 A6,6 0 0 1 1909.9,1298.1 V1283.1 A6,6 0 0 1 1915.9,1277.1 Z" fill="none" stroke="#555" stroke-width="1"/>
<circle cx="1915.4" cy="1290.6" r="1.1" fill="#444"/>
<path d="M1907.4,1316 H1930.68 A6.72,6.72 0 0 1 1937.4,1322.72 V1325.28 A6.72,6.72 0 0 1 1930.68,1332 H1907.4" fill="none" stroke="#555" stroke-width="1"/>
<path d="M1916.4,1316 V1332 M1912.4,1316 V1332 " stroke="#555" stroke-width="1"/>
<rect x="1926.6" y="1341.3" width="15.8" height="28.1" rx="0" fill="none" stroke="#777" stroke-width="0.9"/>
<rect x="1928.6" y="1343.3" width="11.8" height="24.1" rx="0" fill="none" stroke="#555" stroke-width="0.9"/>
<circle cx="1934.5" cy="1355.35" r="0.9" fill="#444"/>
<rect x="1922.7" y="1373.8" width="21.6" height="25.8" rx="0" fill="none" stroke="#888" stroke-width="0.9"/>
<path d="M1937.1,1386.6999999999998 A3.6,3.6 0 1 1 1929.9,1386.6999999999998 A3.6,3.6 0 1 1 1937.1,1386.6999999999998 M1937.1,1386.6999999999998 L1937.1,1379.7 M1933.5,1383.1 L1926.5,1383.1 M1929.9,1386.6999999999998 L1929.9,1393.7 M1933.5,1390.2999999999997 L1940.5,1390.3 " stroke="#333" stroke-width="0.9" fill="none" transform="rotate(-12 1933.5 1386.6999999999998)"/>
<text x="802.9" y="1293.9" font-family="Liberation Sans" font-weight="bold" font-size="19.5" fill="#4a4a4c" textLength="65.3" lengthAdjust="spacingAndGlyphs">17,4 м²</text>
<text x="1041.9" y="1182.5" font-family="Liberation Sans" font-weight="bold" font-size="19.5" fill="#4a4a4c" textLength="57.7" lengthAdjust="spacingAndGlyphs">3,3 м²</text>
<text x="1002.5" y="1245" font-family="Liberation Sans" font-weight="bold" font-size="19.5" fill="#4a4a4c" textLength="57.8" lengthAdjust="spacingAndGlyphs">5,5 м²</text>
<text x="771.3" y="1461" font-family="Liberation Sans" font-weight="bold" font-size="19.5" fill="#4a4a4c" textLength="67.7" lengthAdjust="spacingAndGlyphs">10,9 м²</text>
<text x="900.4" y="1504.7" font-family="Liberation Sans" font-weight="bold" font-size="19.5" fill="#4a4a4c" textLength="67.6" lengthAdjust="spacingAndGlyphs">12,0 м²</text>
<text x="736.9" y="1585" font-family="Liberation Sans" font-weight="bold" font-size="19.5" fill="#4a4a4c" textLength="110.7" lengthAdjust="spacingAndGlyphs">1,5/(3,0) м²</text>
<text transform="translate(949.8,1333.7) rotate(-90)" font-family="Liberation Sans" font-weight="bold" font-size="19.5" fill="#4a4a4c" textLength="55.4" lengthAdjust="spacingAndGlyphs">4,1 м²</text>
<text transform="translate(1066.8,1337.4) rotate(-90)" font-family="Liberation Sans" font-weight="bold" font-size="19.5" fill="#4a4a4c" textLength="57.8" lengthAdjust="spacingAndGlyphs">2,8 м²</text>
<text transform="translate(711.6,1326) rotate(-90)" font-family="Liberation Sans" font-weight="bold" font-size="19.5" fill="#4a4a4c" textLength="82" lengthAdjust="spacingAndGlyphs">0,4/(1,2)</text>
</g>
</svg>
</body></html>
